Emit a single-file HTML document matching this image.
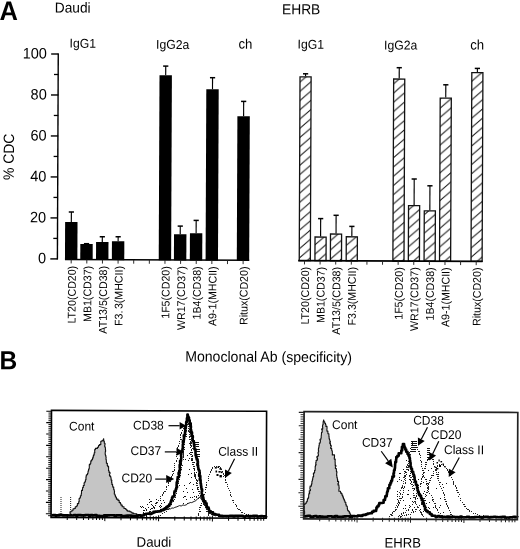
<!DOCTYPE html>
<html><head><meta charset="utf-8"><style>
html,body{margin:0;padding:0;background:#fff;}
svg{display:block;filter:grayscale(1);}
text{font-family:"Liberation Sans",sans-serif;fill:#000;}
</style></head><body>
<svg width="520" height="549" viewBox="0 0 520 549">
<defs><pattern id="h" patternUnits="userSpaceOnUse" x="0" y="0" width="10.6" height="9.3" patternTransform="rotate(0.241)"><path d="M-10.6,18.6 L21.2,-9.3 M-10.6,9.3 L10.6,-9.3 M0,18.6 L21.2,0" stroke="#1a1a1a" stroke-width="1.05"/></pattern></defs>
<rect width="520" height="549" fill="#fff"/>
<text font-size="25.5" text-anchor="start" font-weight="bold" transform="translate(-0.4 20) rotate(0.241) scale(1 1.05)" >A</text>
<text font-size="13.7" text-anchor="start" font-weight="normal" transform="translate(54.8 12.5) rotate(0.241) scale(1 1.05)" >Daudi</text>
<text font-size="13.8" text-anchor="start" font-weight="normal" transform="translate(282 14.2) rotate(0.241) scale(1 1.05)" >EHRB</text>
<text font-size="12.2" text-anchor="start" font-weight="normal" transform="translate(69.6 47.6) rotate(0.241) scale(1 1.05)" >IgG1</text>
<text font-size="12.2" text-anchor="start" font-weight="normal" transform="translate(156.1 48.8) rotate(0.241) scale(1 1.05)" >IgG2a</text>
<text font-size="13.2" text-anchor="start" font-weight="normal" transform="translate(238.5 48.6) rotate(0.241) scale(1 1.05)" >ch</text>
<text font-size="12.2" text-anchor="start" font-weight="normal" transform="translate(297.6 48.6) rotate(0.241) scale(1 1.05)" >IgG1</text>
<text font-size="12.2" text-anchor="start" font-weight="normal" transform="translate(384 49.4) rotate(0.241) scale(1 1.05)" >IgG2a</text>
<text font-size="13.2" text-anchor="start" font-weight="normal" transform="translate(470.2 49.4) rotate(0.241) scale(1 1.05)" >ch</text>
<line x1="58.26" y1="53.40" x2="57.40" y2="259.50" stroke="#000" stroke-width="1.4" />
<line x1="50.30" y1="258.90" x2="57.70" y2="258.90" stroke="#000" stroke-width="1.4" />
<text font-size="14.5" text-anchor="end" font-weight="normal" transform="translate(46.0 263.4) rotate(0.241) scale(1 1.05)" >0</text>
<line x1="53.29" y1="238.41" x2="57.79" y2="238.41" stroke="#000" stroke-width="1.3" />
<line x1="50.47" y1="217.92" x2="57.87" y2="217.92" stroke="#000" stroke-width="1.4" />
<text font-size="14.5" text-anchor="end" font-weight="normal" transform="translate(46.17 222.42) rotate(0.241) scale(1 1.05)" >20</text>
<line x1="53.46" y1="197.43" x2="57.96" y2="197.43" stroke="#000" stroke-width="1.3" />
<line x1="50.64" y1="176.94" x2="58.04" y2="176.94" stroke="#000" stroke-width="1.4" />
<text font-size="14.5" text-anchor="end" font-weight="normal" transform="translate(46.34 181.44) rotate(0.241) scale(1 1.05)" >40</text>
<line x1="53.63" y1="156.45" x2="58.13" y2="156.45" stroke="#000" stroke-width="1.3" />
<line x1="50.82" y1="135.96" x2="58.22" y2="135.96" stroke="#000" stroke-width="1.4" />
<text font-size="14.5" text-anchor="end" font-weight="normal" transform="translate(46.52 140.46) rotate(0.241) scale(1 1.05)" >60</text>
<line x1="53.80" y1="115.47" x2="58.30" y2="115.47" stroke="#000" stroke-width="1.3" />
<line x1="50.99" y1="94.98" x2="58.39" y2="94.98" stroke="#000" stroke-width="1.4" />
<text font-size="14.5" text-anchor="end" font-weight="normal" transform="translate(46.69 99.48) rotate(0.241) scale(1 1.05)" >80</text>
<line x1="53.97" y1="74.49" x2="58.47" y2="74.49" stroke="#000" stroke-width="1.3" />
<line x1="51.16" y1="54.00" x2="58.56" y2="54.00" stroke="#000" stroke-width="1.4" />
<text font-size="14.5" text-anchor="end" font-weight="normal" transform="translate(46.86 58.5) rotate(0.241) scale(1 1.05)" >100</text>
<text transform="translate(13.9,156.9) rotate(-89.759) scale(0.93,1)" font-size="15" text-anchor="middle">% CDC</text>
<line x1="71.37" y1="212.00" x2="71.33" y2="222.00" stroke="#000" stroke-width="1.15" />
<line x1="68.77" y1="212.00" x2="73.97" y2="212.00" stroke="#000" stroke-width="1.5" />
<rect x="65.05" y="222" width="12.4" height="37.93" fill="#000" transform="rotate(0.241 71.25 240.00)"/>
<line x1="86.53" y1="243.70" x2="86.53" y2="244.00" stroke="#000" stroke-width="1.15" />
<line x1="83.93" y1="243.70" x2="89.13" y2="243.70" stroke="#000" stroke-width="1.5" />
<rect x="80.30" y="244.0" width="12.4" height="15.99" fill="#000" transform="rotate(0.241 86.50 250.00)"/>
<line x1="102.31" y1="236.75" x2="102.28" y2="242.00" stroke="#000" stroke-width="1.15" />
<line x1="99.71" y1="236.75" x2="104.91" y2="236.75" stroke="#000" stroke-width="1.5" />
<rect x="96.05" y="242" width="12.4" height="18.06" fill="#000" transform="rotate(0.241 102.25 250.00)"/>
<line x1="118.16" y1="236.75" x2="118.14" y2="241.25" stroke="#000" stroke-width="1.15" />
<line x1="115.56" y1="236.75" x2="120.76" y2="236.75" stroke="#000" stroke-width="1.5" />
<rect x="111.90" y="241.25" width="12.4" height="18.87" fill="#000" transform="rotate(0.241 118.10 250.00)"/>
<line x1="165.74" y1="66.10" x2="165.70" y2="75.20" stroke="#000" stroke-width="1.15" />
<line x1="163.14" y1="66.10" x2="168.34" y2="66.10" stroke="#000" stroke-width="1.5" />
<rect x="159.50" y="75.2" width="12.4" height="185.12" fill="#000" transform="rotate(0.241 165.70 75.00)"/>
<line x1="180.26" y1="226.10" x2="180.22" y2="234.30" stroke="#000" stroke-width="1.15" />
<line x1="177.66" y1="226.10" x2="182.86" y2="226.10" stroke="#000" stroke-width="1.5" />
<rect x="174.00" y="234.3" width="12.4" height="26.08" fill="#000" transform="rotate(0.241 180.20 240.00)"/>
<line x1="196.18" y1="220.40" x2="196.13" y2="233.20" stroke="#000" stroke-width="1.15" />
<line x1="193.58" y1="220.40" x2="198.78" y2="220.40" stroke="#000" stroke-width="1.5" />
<rect x="189.90" y="233.2" width="12.4" height="27.25" fill="#000" transform="rotate(0.241 196.10 240.00)"/>
<line x1="212.55" y1="77.70" x2="212.50" y2="89.30" stroke="#000" stroke-width="1.15" />
<line x1="209.95" y1="77.70" x2="215.15" y2="77.70" stroke="#000" stroke-width="1.5" />
<rect x="206.30" y="89.3" width="12.4" height="171.22" fill="#000" transform="rotate(0.241 212.50 90.00)"/>
<line x1="243.66" y1="101.40" x2="243.60" y2="116.20" stroke="#000" stroke-width="1.15" />
<line x1="241.06" y1="101.40" x2="246.26" y2="101.40" stroke="#000" stroke-width="1.5" />
<rect x="237.40" y="116.2" width="12.4" height="144.45" fill="#000" transform="rotate(0.241 243.60 116.00)"/>
<line x1="65.00" y1="259.60" x2="249.20" y2="260.37" stroke="#000" stroke-width="1.5" />
<line x1="71.20" y1="259.63" x2="71.18" y2="263.43" stroke="#222" stroke-width="0.95" />
<text transform="translate(75.80,265.83) rotate(-89.759) scale(0.95,1)" font-size="11.2" text-anchor="end">LT20(CD20)</text>
<line x1="86.83" y1="259.69" x2="86.81" y2="263.49" stroke="#222" stroke-width="0.95" />
<text transform="translate(91.43,265.89) rotate(-89.759) scale(0.95,1)" font-size="11.2" text-anchor="end">MB1(CD37)</text>
<line x1="102.46" y1="259.76" x2="102.44" y2="263.56" stroke="#222" stroke-width="0.95" />
<text transform="translate(107.06,265.96) rotate(-89.759) scale(0.95,1)" font-size="11.2" text-anchor="end">AT13/5(CD38)</text>
<line x1="118.09" y1="259.82" x2="118.07" y2="263.62" stroke="#222" stroke-width="0.95" />
<text transform="translate(122.69,266.02) rotate(-89.759) scale(0.95,1)" font-size="11.2" text-anchor="end">F3.<tspan dx="1.5">3</tspan>(MHCII)</text>
<line x1="133.72" y1="259.89" x2="133.70" y2="263.69" stroke="#222" stroke-width="0.95" />
<line x1="149.35" y1="259.95" x2="149.33" y2="263.75" stroke="#222" stroke-width="0.95" />
<line x1="164.98" y1="260.02" x2="164.96" y2="263.82" stroke="#222" stroke-width="0.95" />
<text transform="translate(169.58,266.22) rotate(-89.759) scale(0.95,1)" font-size="11.2" text-anchor="end">1F5(CD20)</text>
<line x1="180.61" y1="260.09" x2="180.59" y2="263.89" stroke="#222" stroke-width="0.95" />
<text transform="translate(185.21,266.29) rotate(-89.759) scale(0.95,1)" font-size="11.2" text-anchor="end">WR17(CD37)</text>
<line x1="196.24" y1="260.15" x2="196.22" y2="263.95" stroke="#222" stroke-width="0.95" />
<text transform="translate(200.84,266.35) rotate(-89.759) scale(0.95,1)" font-size="11.2" text-anchor="end">1B4(CD38)</text>
<line x1="211.87" y1="260.22" x2="211.85" y2="264.02" stroke="#222" stroke-width="0.95" />
<text transform="translate(216.47,266.42) rotate(-89.759) scale(0.95,1)" font-size="11.2" text-anchor="end">A9-1(MHCII)</text>
<line x1="227.50" y1="260.28" x2="227.48" y2="264.08" stroke="#222" stroke-width="0.95" />
<line x1="243.13" y1="260.35" x2="243.11" y2="264.15" stroke="#222" stroke-width="0.95" />
<text transform="translate(247.73,266.55) rotate(-89.759) scale(0.95,1)" font-size="11.2" text-anchor="end">Ritux(CD20)</text>
<line x1="305.58" y1="73.80" x2="305.57" y2="76.20" stroke="#000" stroke-width="1.15" />
<line x1="302.98" y1="73.80" x2="308.18" y2="73.80" stroke="#000" stroke-width="1.5" />
<rect x="299.75" y="76.85" width="11.10" height="183.78" fill="url(#h)" stroke="#111" stroke-width="1.3" transform="rotate(0.241 305.30 140.00)"/>
<line x1="320.66" y1="218.60" x2="320.59" y2="236.40" stroke="#000" stroke-width="1.15" />
<line x1="318.06" y1="218.60" x2="323.26" y2="218.60" stroke="#000" stroke-width="1.5" />
<rect x="315.00" y="237.05" width="11.10" height="23.64" fill="url(#h)" stroke="#111" stroke-width="1.3" transform="rotate(0.241 320.55 245.00)"/>
<line x1="336.12" y1="215.30" x2="336.05" y2="233.40" stroke="#000" stroke-width="1.15" />
<line x1="333.52" y1="215.30" x2="338.72" y2="215.30" stroke="#000" stroke-width="1.5" />
<rect x="330.45" y="234.05" width="11.10" height="26.71" fill="url(#h)" stroke="#111" stroke-width="1.3" transform="rotate(0.241 336.00 245.00)"/>
<line x1="351.88" y1="226.40" x2="351.84" y2="236.10" stroke="#000" stroke-width="1.15" />
<line x1="349.28" y1="226.40" x2="354.48" y2="226.40" stroke="#000" stroke-width="1.5" />
<rect x="346.25" y="236.75" width="11.10" height="24.08" fill="url(#h)" stroke="#111" stroke-width="1.3" transform="rotate(0.241 351.80 245.00)"/>
<line x1="399.25" y1="67.70" x2="399.21" y2="78.40" stroke="#000" stroke-width="1.15" />
<line x1="396.65" y1="67.70" x2="401.85" y2="67.70" stroke="#000" stroke-width="1.5" />
<rect x="393.65" y="79.05" width="11.10" height="181.97" fill="url(#h)" stroke="#111" stroke-width="1.3" transform="rotate(0.241 399.20 80.00)"/>
<line x1="414.21" y1="179.00" x2="414.11" y2="205.00" stroke="#000" stroke-width="1.15" />
<line x1="411.61" y1="179.00" x2="416.81" y2="179.00" stroke="#000" stroke-width="1.5" />
<rect x="408.45" y="205.65" width="11.10" height="55.44" fill="url(#h)" stroke="#111" stroke-width="1.3" transform="rotate(0.241 414.00 230.00)"/>
<line x1="429.94" y1="185.80" x2="429.83" y2="210.30" stroke="#000" stroke-width="1.15" />
<line x1="427.34" y1="185.80" x2="432.54" y2="185.80" stroke="#000" stroke-width="1.5" />
<rect x="424.20" y="210.95" width="11.10" height="50.20" fill="url(#h)" stroke="#111" stroke-width="1.3" transform="rotate(0.241 429.75 230.00)"/>
<line x1="445.81" y1="84.80" x2="445.76" y2="97.50" stroke="#000" stroke-width="1.15" />
<line x1="443.21" y1="84.80" x2="448.41" y2="84.80" stroke="#000" stroke-width="1.5" />
<rect x="440.20" y="98.15" width="11.10" height="163.07" fill="url(#h)" stroke="#111" stroke-width="1.3" transform="rotate(0.241 445.75 100.00)"/>
<line x1="477.38" y1="68.40" x2="477.37" y2="72.00" stroke="#000" stroke-width="1.15" />
<line x1="474.78" y1="68.40" x2="479.98" y2="68.40" stroke="#000" stroke-width="1.5" />
<rect x="471.05" y="72.65" width="11.10" height="188.70" fill="url(#h)" stroke="#111" stroke-width="1.3" transform="rotate(0.241 476.60 255.00)"/>
<line x1="298.20" y1="260.60" x2="482.60" y2="261.37" stroke="#000" stroke-width="1.7" />
<line x1="304.50" y1="260.63" x2="304.48" y2="264.43" stroke="#222" stroke-width="0.95" />
<text transform="translate(309.10,266.83) rotate(-89.759) scale(0.95,1)" font-size="11.2" text-anchor="end">LT20(CD20)</text>
<line x1="320.11" y1="260.69" x2="320.09" y2="264.49" stroke="#222" stroke-width="0.95" />
<text transform="translate(324.71,266.89) rotate(-89.759) scale(0.95,1)" font-size="11.2" text-anchor="end">MB1(CD37)</text>
<line x1="335.72" y1="260.76" x2="335.70" y2="264.56" stroke="#222" stroke-width="0.95" />
<text transform="translate(340.32,266.96) rotate(-89.759) scale(0.95,1)" font-size="11.2" text-anchor="end">AT13/5(CD38)</text>
<line x1="351.33" y1="260.82" x2="351.31" y2="264.62" stroke="#222" stroke-width="0.95" />
<text transform="translate(355.93,267.02) rotate(-89.759) scale(0.95,1)" font-size="11.2" text-anchor="end">F3.3(MHCII)</text>
<line x1="366.94" y1="260.89" x2="366.92" y2="264.69" stroke="#222" stroke-width="0.95" />
<line x1="382.55" y1="260.95" x2="382.53" y2="264.75" stroke="#222" stroke-width="0.95" />
<line x1="398.16" y1="261.02" x2="398.14" y2="264.82" stroke="#222" stroke-width="0.95" />
<text transform="translate(402.76,267.22) rotate(-89.759) scale(0.95,1)" font-size="11.2" text-anchor="end">1F5(CD20)</text>
<line x1="413.77" y1="261.09" x2="413.75" y2="264.89" stroke="#222" stroke-width="0.95" />
<text transform="translate(418.37,267.29) rotate(-89.759) scale(0.95,1)" font-size="11.2" text-anchor="end">WR17(CD37)</text>
<line x1="429.38" y1="261.15" x2="429.36" y2="264.95" stroke="#222" stroke-width="0.95" />
<text transform="translate(433.98,267.35) rotate(-89.759) scale(0.95,1)" font-size="11.2" text-anchor="end">1B4(CD38)</text>
<line x1="444.99" y1="261.22" x2="444.97" y2="265.02" stroke="#222" stroke-width="0.95" />
<text transform="translate(449.59,267.42) rotate(-89.759) scale(0.95,1)" font-size="11.2" text-anchor="end">A9-1(MHCII)</text>
<line x1="460.60" y1="261.28" x2="460.58" y2="265.08" stroke="#222" stroke-width="0.95" />
<line x1="476.21" y1="261.35" x2="476.19" y2="265.15" stroke="#222" stroke-width="0.95" />
<text transform="translate(480.81,267.55) rotate(-89.759) scale(0.95,1)" font-size="11.2" text-anchor="end">Ritux(CD20)</text>
<text font-size="24.5" text-anchor="start" font-weight="bold" transform="translate(-0.6 369.2) rotate(0.241) scale(1 1.07)" >B</text>
<text font-size="14.1" text-anchor="start" font-weight="normal" transform="translate(185.2 361.5) rotate(0.241) scale(1 1.05)" >Monoclonal Ab (specificity)</text>
<polyline points="69.8,515.0 70.2,515.0 70.2,513.3 70.0,513.3 70.0,511.9 70.8,511.9 70.8,511.2 72.0,511.2 72.0,510.2 73.1,510.2 73.1,508.8 74.6,508.8 74.6,508.4 75.3,508.4 75.3,506.7 76.7,506.7 76.7,505.8 77.4,505.8 77.4,503.6 78.7,503.6 78.7,501.6 79.2,501.6 79.2,500.3 79.1,500.3 79.1,498.5 79.9,498.5 79.9,497.5 80.4,497.5 80.4,495.7 81.2,495.7 81.2,493.8 81.5,493.8 81.5,491.9 81.5,491.9 81.5,490.4 82.5,490.4 82.5,488.9 82.6,488.9 82.6,487.5 83.3,487.5 83.3,485.5 84.2,485.5 84.2,484.3 84.1,484.3 84.1,482.8 84.8,482.8 84.8,481.7 85.4,481.7 85.4,479.8 86.0,479.8 86.0,478.3 85.9,478.3 85.9,477.5 86.1,477.5 86.1,475.9 86.4,475.9 86.4,474.7 87.5,474.7 87.5,473.2 88.0,473.2 88.0,471.6 88.3,471.6 88.3,470.5 88.6,470.5 88.6,469.0 89.2,469.0 89.2,468.1 89.3,468.1 89.3,466.2 89.3,466.2 89.3,464.6 90.2,464.6 90.2,463.2 90.8,463.2 90.8,460.9 91.6,460.9 91.6,459.7 92.5,459.7 92.5,457.9 93.2,457.9 93.2,455.9 93.6,455.9 93.6,454.9 94.2,454.9 94.2,452.7 94.8,452.7 94.8,451.7 94.7,451.7 94.7,449.6 95.4,449.6 95.4,448.4 97.4,448.4 97.4,447.2 98.5,447.2 98.5,445.5 99.4,445.5 99.4,444.6 100.8,444.6 100.8,442.5 100.8,442.5 100.8,441.2 102.1,441.2 102.1,440.2 103.7,440.2 103.7,438.8 103.5,438.8 103.5,441.0 104.3,441.0 104.3,443.2 105.0,443.2 105.0,444.9 104.7,444.9 104.7,446.5 105.1,446.5 105.1,447.6 105.4,447.6 105.4,449.9 105.6,449.9 105.6,451.6 105.3,451.6 105.3,452.6 105.2,452.6 105.2,454.3 105.4,454.3 105.4,455.2 105.8,455.2 105.8,456.7 106.1,456.7 106.1,458.0 106.0,458.0 106.0,459.6 106.3,459.6 106.3,461.2 106.4,461.2 106.4,463.2 107.4,463.2 107.4,463.8 107.3,463.8 107.3,465.4 107.8,465.4 107.8,466.6 108.6,466.6 108.6,468.9 108.6,468.9 108.6,469.8 108.5,469.8 108.5,470.8 109.1,470.8 109.1,472.4 110.0,472.4 110.0,473.7 109.5,473.7 109.5,475.9 110.4,475.9 110.4,476.5 110.8,476.5 110.8,477.8 111.1,477.8 111.1,480.1 111.8,480.1 111.8,481.3 111.6,481.3 111.6,482.4 111.9,482.4 111.9,484.4 112.6,484.4 112.6,486.0 112.8,486.0 112.8,487.1 113.7,487.1 113.7,489.5 114.2,489.5 114.2,491.0 114.5,491.0 114.5,492.5 114.3,492.5 114.3,494.0 114.9,494.0 114.9,495.1 115.4,495.1 115.4,497.0 116.4,497.0 116.4,499.1 118.0,499.1 118.0,500.4 119.2,500.4 119.2,502.6 120.5,502.6 120.5,503.7 121.0,503.7 121.0,505.1 122.2,505.1 122.2,506.7 124.0,506.7 124.0,508.5 125.6,508.5 125.6,509.2 126.8,509.2 126.8,510.6 127.6,510.6 127.6,511.1 129.9,511.1 129.9,511.8 131.1,511.8 131.1,512.2 132.0,512.2 132.0,513.1 133.7,513.1 133.7,513.7 135.9,513.7 135.9,513.8 136.8,513.8 136.8,515.0 138.7,515.0 138.7,514.8 140.0,514.8 140.0,515.7" fill="#c5c5c5" stroke="#111" stroke-width="1.1" stroke-linejoin="round" />
<line x1="61.00" y1="497.00" x2="61.00" y2="515.00" stroke="#333" stroke-width="1.1" stroke-dasharray="1,1"/>
<line x1="70.60" y1="497.00" x2="70.60" y2="515.00" stroke="#333" stroke-width="1.1" stroke-dasharray="1,1"/>
<polyline points="197.5,515.4 199.0,514.8 198.4,513.3 200.0,511.5 199.5,509.7 199.6,507.4 201.2,506.8 201.0,505.6 201.4,504.0 202.5,501.6 202.2,500.2 202.6,499.1 203.2,497.1 203.5,496.1 204.3,493.7 205.1,492.6 205.3,491.0 205.8,488.8 206.2,486.5 206.5,485.2 206.3,484.4 207.0,482.5 208.1,481.1 208.0,479.5 208.7,478.4 208.5,476.6 209.1,474.7 210.4,473.5 210.6,472.4 211.6,470.4 211.7,469.0 212.8,468.0 213.9,466.5 215.5,466.9 217.3,466.5 219.1,466.2 220.1,467.6 221.7,468.0 222.0,469.9 222.4,471.1 222.9,473.2 224.4,475.1 224.0,476.3 225.2,477.3 226.0,480.2 225.6,481.9 226.4,483.0 227.8,485.2 227.3,486.4 228.4,488.0 228.6,489.7 229.9,490.9 230.3,493.1 230.1,494.6 231.6,496.4 231.4,498.7 233.2,500.2 232.9,500.7 233.6,502.9 234.7,503.5 235.8,505.8 237.2,506.2 237.1,508.3 238.6,509.3 239.1,509.4 241.1,510.9 241.4,512.6 244.2,513.4 245.4,514.5 246.9,515.0 248.9,514.8 250.6,516.2 252.0,516.1" fill="none" stroke="#222" stroke-width="1.1" stroke-linejoin="round" stroke-dasharray="1.3,1.1" shape-rendering="crispEdges"/>
<polyline points="149.7,515.3 151.6,514.7 152.7,513.8 154.3,513.1 156.2,512.5 158.3,511.7 159.6,511.2 161.0,510.6 162.5,510.2 164.7,510.5 165.6,510.0 168.0,509.0 169.4,508.9 170.5,508.9 171.9,508.0 173.7,508.1 174.8,507.4 176.9,506.8 178.2,506.2 179.5,505.6 181.2,506.0 183.0,504.9 184.5,505.4 186.8,504.6 187.5,503.5 189.0,503.2 190.2,502.5 191.7,502.6 194.2,501.4 195.0,501.2 196.8,499.8 197.9,498.4 200.0,497.0 200.6,498.3 201.4,499.4 202.5,500.9 203.1,501.8 204.0,503.5 204.9,505.2 205.7,506.8 206.3,508.5 206.9,509.0 208.6,510.1 209.3,511.9 209.5,513.4 212.0,513.9 213.3,514.9 214.1,515.3 216.0,516.0" fill="none" stroke="#000" stroke-width="0.9" stroke-linejoin="round" />
<polyline points="146.0,516.3 147.5,515.1 148.2,514.1 149.3,512.5 149.5,510.2 150.6,509.5 151.8,509.1 153.9,507.5 155.2,506.3 156.0,503.6 157.5,503.4 158.0,501.6 159.3,499.2 160.4,498.1 160.2,496.6 162.4,495.0 163.4,494.9 163.8,492.5 164.6,491.7 165.9,490.3 166.5,488.0 166.4,487.1 168.2,485.5 168.6,483.4 168.5,482.2 170.3,481.3 170.9,479.1 171.3,477.9 171.8,475.8 173.2,474.5 173.9,474.0 172.6,471.4 174.6,470.6 174.4,467.6 174.4,467.1 174.7,464.6 175.0,462.8 176.8,460.3 176.8,459.5 177.2,458.4 176.3,457.2 177.0,454.1 176.4,453.5 177.4,451.6 177.2,450.1 177.8,449.4 177.5,447.7 179.3,444.9 179.8,444.4 180.1,442.0 179.6,440.6 181.1,439.4 180.3,437.5 180.6,435.2 180.8,435.0 181.6,433.6 182.0,430.8 183.0,429.0 183.3,428.8 184.8,427.1 185.0,425.7 186.2,423.6 186.4,421.2 187.3,423.2 188.1,424.9 188.1,425.2 189.4,426.9 188.8,428.8 188.6,431.1 190.0,431.8 189.6,433.4 189.6,435.1 189.1,436.3 189.3,439.2 190.0,439.5 190.9,442.4 190.2,442.4 189.9,443.8 190.4,445.3 190.4,447.1 191.1,449.7 191.6,450.3 191.2,452.0 191.3,453.2 190.9,454.6 192.7,455.8 192.0,458.2 193.0,459.1 192.2,460.7 192.7,462.7 194.0,465.0 194.2,465.1 193.0,468.0 194.8,469.2 194.6,469.9 194.5,473.2 195.6,474.6 196.2,475.1 195.0,476.5 196.0,479.0 197.1,480.6 196.9,482.3 196.9,483.4 196.5,485.4 197.2,487.2 198.3,487.6 197.8,489.2 199.2,491.7 198.8,492.2 200.0,494.8 200.3,495.8 201.2,497.1 201.3,499.4 203.2,501.3 203.7,502.5 203.2,503.5 205.2,505.9 204.7,506.1 206.0,508.6 206.9,509.1 208.3,511.6 208.5,511.3 209.7,513.3 211.3,514.1 212.0,516.0" fill="none" stroke="#222" stroke-width="1.1" stroke-linejoin="round" stroke-dasharray="1.3,1.1" shape-rendering="crispEdges"/>
<polyline points="160.5,516.2 161.3,514.3 163.5,513.5 164.6,512.4 164.8,512.4 166.3,511.8 168.0,509.4 168.4,508.4 170.0,508.0 169.9,505.5 170.9,505.1 171.6,502.1 172.4,501.2 174.7,500.7 174.9,499.5 175.7,496.8 174.8,496.5 176.2,493.4 176.5,492.6 176.4,491.0 176.5,489.0 177.2,488.2 178.8,486.3 179.1,484.9 178.3,484.5 179.4,482.2 178.3,480.8 179.1,480.0 179.1,477.5 180.6,475.3 180.0,475.2 180.9,472.3 179.9,470.8 181.8,469.6 181.6,469.2 181.1,466.6 182.4,465.7 181.4,464.4 181.7,462.1 181.3,461.5 183.1,459.7 183.4,457.1 182.3,456.5 183.8,455.8 183.0,453.1 183.2,452.0 184.3,449.9 184.3,449.4 184.5,448.0 184.3,445.7 184.0,444.3 185.0,442.2 184.2,441.8 184.5,439.0 184.4,438.2 185.2,437.4 186.4,435.8 185.6,432.5 185.5,431.6 186.9,429.9 186.6,428.4 187.8,427.3 188.6,426.1 189.0,423.3 189.8,425.1 189.7,426.8 190.5,428.0 190.0,429.5 190.0,432.2 190.8,432.7 190.5,435.5 190.8,435.6 191.4,437.9 191.9,438.4 191.0,441.2 191.7,442.9 190.4,443.3 190.6,444.7 192.2,446.9 192.2,448.0 192.2,449.7 191.2,451.8 192.5,452.1 191.9,454.6 191.3,455.6 191.3,456.9 191.7,459.1 192.7,459.9 191.9,461.6 193.3,462.9 193.0,464.4 194.1,466.5 193.1,467.2 194.0,469.6 194.7,470.2 194.1,472.8 194.8,473.6 195.1,476.3 195.5,477.0 196.0,478.2 197.3,480.7 196.8,480.8 197.9,482.2 197.0,485.0 198.1,486.3 198.5,487.8 199.0,488.0 198.6,490.2 200.1,492.3 199.6,493.2 200.5,494.5 200.6,495.6 201.7,498.3 201.4,499.0 203.2,501.3 202.5,501.3 204.3,504.4 204.0,504.2 205.4,506.2 206.0,508.0 206.5,508.5 207.0,510.0 207.0,512.5 208.3,512.7 207.9,514.4 209.0,516.0" fill="none" stroke="#222" stroke-width="1.1" stroke-linejoin="round" stroke-dasharray="1.3,1.1" shape-rendering="crispEdges"/>
<line x1="195.00" y1="442.00" x2="198.80" y2="442.00" stroke="#111" stroke-width="1.0" shape-rendering="crispEdges"/>
<line x1="195.25" y1="444.40" x2="199.05" y2="444.40" stroke="#111" stroke-width="1.0" shape-rendering="crispEdges"/>
<line x1="195.50" y1="446.80" x2="199.30" y2="446.80" stroke="#111" stroke-width="1.0" shape-rendering="crispEdges"/>
<line x1="195.75" y1="449.20" x2="199.55" y2="449.20" stroke="#111" stroke-width="1.0" shape-rendering="crispEdges"/>
<line x1="196.00" y1="451.60" x2="199.80" y2="451.60" stroke="#111" stroke-width="1.0" shape-rendering="crispEdges"/>
<line x1="196.25" y1="454.00" x2="200.05" y2="454.00" stroke="#111" stroke-width="1.0" shape-rendering="crispEdges"/>
<line x1="196.50" y1="456.40" x2="200.30" y2="456.40" stroke="#111" stroke-width="1.0" shape-rendering="crispEdges"/>
<rect x="214.8" y="467" width="2" height="1.6" fill="#000"/>
<rect x="217.5" y="466.5" width="1.5" height="1.5" fill="#000"/>
<rect x="219.5" y="468" width="2" height="1.8" fill="#000"/>
<rect x="215.5" y="470.5" width="1.6" height="2" fill="#000"/>
<rect x="218.5" y="471" width="2.2" height="1.6" fill="#000"/>
<rect x="221" y="471.5" width="1.6" height="1.6" fill="#000"/>
<rect x="216.5" y="474" width="2" height="2" fill="#000"/>
<rect x="219.5" y="475" width="2.4" height="2.4" fill="#000"/>
<polyline points="51.5,515.2 53.0,515.2 53.0,515.1 55.5,515.1 55.5,515.7 56.6,515.7 56.6,515.4 59.2,515.4 59.2,514.9 61.2,514.9 61.2,515.0 62.8,515.0 62.8,515.4 64.7,515.4 64.7,515.2 66.3,515.2 66.3,515.4 68.2,515.4 68.2,515.5 70.1,515.5 70.1,515.3 71.5,515.3 71.5,515.5 73.9,515.5 73.9,515.1 76.0,515.1 76.0,515.7 77.6,515.7 77.6,515.1 79.5,515.1 79.5,515.0 81.0,515.0 81.0,515.4 82.8,515.4 82.8,515.4 85.1,515.4 85.1,515.0 87.1,515.0 87.1,515.0 89.0,515.0 89.0,515.7 90.7,515.7 90.7,515.0 92.5,515.0 92.5,515.4 94.9,515.4 94.9,515.1 96.6,515.1 96.6,516.0 98.4,516.0 98.4,515.8 99.7,515.8 99.7,516.0 101.8,516.0 101.8,516.0 104.1,516.0 104.1,515.2 105.7,515.2 105.7,516.0 106.8,516.0 106.8,515.4 109.3,515.4 109.3,515.2 111.3,515.2 111.3,515.3 113.0,515.3 113.0,515.2 114.5,515.2 114.5,516.0 116.1,516.0 116.1,515.3 118.2,515.3 118.2,515.4 119.5,515.4 119.5,515.3 121.5,515.3 121.5,516.0 123.8,516.0 123.8,516.0 125.1,516.0 125.1,515.9 126.9,515.9 126.9,515.6 129.2,515.6 129.2,515.5 131.3,515.5 131.3,515.7 132.8,515.7 132.8,516.0 134.2,516.0 134.2,516.1 136.5,516.1 136.5,515.6 138.5,515.6 138.5,515.4 140.5,515.4 140.5,515.7 141.8,515.7 141.8,515.5 143.8,515.5 143.8,514.4 146.0,514.4 146.0,513.8 148.0,513.8 148.0,513.5 149.7,513.5 149.7,513.8 151.6,513.8 151.6,513.0 153.4,513.0 153.4,511.9 155.2,511.9 155.2,511.6 157.8,511.6 157.8,511.4 159.6,511.4 159.6,511.3 161.1,511.3 161.1,510.1 163.6,510.1 163.6,509.0 164.9,509.0 164.9,508.4 166.3,508.4 166.3,507.1 167.7,507.1 167.7,506.0 169.3,506.0 169.3,504.3 170.5,504.3 170.5,502.3 171.1,502.3 171.1,500.4 172.0,500.4 172.0,497.8 172.6,497.8 172.6,496.5 174.2,496.5 174.2,494.9 174.3,494.9 174.3,492.6 174.5,492.6 174.5,491.3 175.7,491.3 175.7,489.3 176.3,489.3 176.3,487.6 177.0,487.6 177.0,486.2 176.6,486.2 176.6,484.5 176.7,484.5 176.7,482.4 177.4,482.4 177.4,480.3 177.4,480.3 177.4,479.1 177.7,479.1 177.7,477.1 179.0,477.1 179.0,474.5 178.6,474.5 178.6,472.8 179.3,472.8 179.3,470.6 180.0,470.6 180.0,468.0 179.7,468.0 179.7,466.2 179.7,466.2 179.7,464.8 180.7,464.8 180.7,462.7 180.1,462.7 180.1,460.8 181.1,460.8 181.1,458.5 181.3,458.5 181.3,456.6 181.1,456.6 181.1,454.2 181.4,454.2 181.4,452.1 181.8,452.1 181.8,450.7 182.5,450.7 182.5,448.8 182.8,448.8 182.8,446.2 182.8,446.2 182.8,444.5 183.2,444.5 183.2,442.8 182.9,442.8 182.9,441.1 183.8,441.1 183.8,438.9 184.1,438.9 184.1,436.9 183.8,436.9 183.8,435.3 184.7,435.3 184.7,434.2 185.0,434.2 185.0,431.7 185.5,431.7 185.5,429.7 185.1,429.7 185.1,428.2 185.8,428.2 185.8,426.0 186.1,426.0 186.1,424.2 186.2,424.2 186.2,422.0 186.8,422.0 186.8,420.2 186.9,420.2 186.9,418.3 187.4,418.3 187.4,416.0 187.4,416.0 187.4,414.5 187.8,414.5 187.8,416.6 188.4,416.6 188.4,417.6 189.0,417.6 189.0,420.3 189.7,420.3 189.7,421.3 189.7,421.3 189.7,423.3 190.7,423.3 190.7,425.9 190.9,425.9 190.9,428.1 190.6,428.1 190.6,430.0 191.2,430.0 191.2,432.2 192.0,432.2 192.0,434.2 191.6,434.2 191.6,436.1 192.8,436.1 192.8,438.1 192.4,438.1 192.4,439.3 192.7,439.3 192.7,441.1 193.8,441.1 193.8,443.8 194.1,443.8 194.1,445.9 194.5,445.9 194.5,447.4 194.4,447.4 194.4,449.2 195.5,449.2 195.5,451.4 195.5,451.4 195.5,453.6 195.6,453.6 195.6,455.4 196.2,455.4 196.2,457.8 196.7,457.8 196.7,459.4 197.6,459.4 197.6,461.5 197.9,461.5 197.9,463.6 197.4,463.6 197.4,465.3 198.1,465.3 198.1,467.5 198.3,467.5 198.3,469.2 198.8,469.2 198.8,470.5 199.5,470.5 199.5,472.2 199.7,472.2 199.7,474.1 199.2,474.1 199.2,475.9 200.3,475.9 200.3,478.5 199.8,478.5 199.8,479.9 200.6,479.9 200.6,482.2 200.6,482.2 200.6,483.8 201.0,483.8 201.0,486.1 201.3,486.1 201.3,488.1 201.5,488.1 201.5,489.3 202.1,489.3 202.1,491.5 201.7,491.5 201.7,493.6 201.9,493.6 201.9,495.7 203.0,495.7 203.0,497.7 203.4,497.7 203.4,499.3 203.7,499.3 203.7,501.4 205.4,501.4 205.4,503.4 206.6,503.4 206.6,505.7 206.9,505.7 206.9,507.5 208.6,507.5 208.6,509.3 209.1,509.3 209.1,511.2 210.8,511.2 210.8,512.3 213.0,512.3 213.0,514.1 215.2,514.1 215.2,514.5 216.7,514.5 216.7,514.8 219.1,514.8 219.1,515.9 222.2,515.9 222.2,516.3 223.5,516.3 223.5,516.0 226.0,516.0 226.0,516.1 227.2,516.1 227.2,516.0 229.8,516.0 229.8,515.8 230.9,515.8 230.9,515.9 233.3,515.9 233.3,516.4 234.6,516.4 234.6,515.7 236.5,515.7 236.5,515.9 238.6,515.9 238.6,515.7 240.3,515.7 240.3,515.8 242.8,515.8 242.8,516.3 243.8,516.3 243.8,516.6 245.6,516.6 245.6,516.0 248.3,516.0 248.3,516.4 249.9,516.4 249.9,516.1 251.2,516.1 251.2,516.3 253.0,516.3 253.0,515.9 255.1,515.9 255.1,515.7 257.0,515.7 257.0,516.5 259.1,516.5 259.1,516.2 260.9,516.2 260.9,516.1 262.3,516.1 262.3,516.3 264.4,516.3 264.4,516.4 266.3,516.4 266.3,516.2" fill="none" stroke="#000" stroke-width="2.6" stroke-linejoin="round" />
<rect x="162.7" y="500.1" width="1.0" height="1.0" fill="#111" shape-rendering="crispEdges"/>
<rect x="154.3" y="507.8" width="1.0" height="1.0" fill="#111" shape-rendering="crispEdges"/>
<rect x="150.5" y="500.6" width="1.0" height="1.0" fill="#111" shape-rendering="crispEdges"/>
<rect x="158.1" y="509.8" width="1.0" height="1.0" fill="#111" shape-rendering="crispEdges"/>
<rect x="159.4" y="506.2" width="1.0" height="1.0" fill="#111" shape-rendering="crispEdges"/>
<rect x="161.3" y="505.5" width="1.0" height="1.0" fill="#111" shape-rendering="crispEdges"/>
<rect x="156.0" y="502.4" width="1.0" height="1.0" fill="#111" shape-rendering="crispEdges"/>
<rect x="147.8" y="507.0" width="1.0" height="1.0" fill="#111" shape-rendering="crispEdges"/>
<rect x="142.4" y="505.8" width="1.0" height="1.0" fill="#111" shape-rendering="crispEdges"/>
<rect x="159.6" y="506.5" width="1.0" height="1.0" fill="#111" shape-rendering="crispEdges"/>
<rect x="155.7" y="499.0" width="1.0" height="1.0" fill="#111" shape-rendering="crispEdges"/>
<rect x="150.6" y="503.9" width="1.0" height="1.0" fill="#111" shape-rendering="crispEdges"/>
<rect x="155.5" y="501.8" width="1.0" height="1.0" fill="#111" shape-rendering="crispEdges"/>
<rect x="156.9" y="510.7" width="1.0" height="1.0" fill="#111" shape-rendering="crispEdges"/>
<rect x="144.6" y="507.9" width="1.0" height="1.0" fill="#111" shape-rendering="crispEdges"/>
<rect x="159.5" y="500.2" width="1.0" height="1.0" fill="#111" shape-rendering="crispEdges"/>
<rect x="152.2" y="511.6" width="1.0" height="1.0" fill="#111" shape-rendering="crispEdges"/>
<rect x="141.0" y="507.4" width="1.0" height="1.0" fill="#111" shape-rendering="crispEdges"/>
<rect x="144.0" y="509.5" width="1.0" height="1.0" fill="#111" shape-rendering="crispEdges"/>
<rect x="163.5" y="501.8" width="1.0" height="1.0" fill="#111" shape-rendering="crispEdges"/>
<rect x="142.5" y="507.4" width="1.0" height="1.0" fill="#111" shape-rendering="crispEdges"/>
<rect x="153.5" y="507.4" width="1.0" height="1.0" fill="#111" shape-rendering="crispEdges"/>
<rect x="152.8" y="506.3" width="1.0" height="1.0" fill="#111" shape-rendering="crispEdges"/>
<rect x="160.7" y="502.5" width="1.0" height="1.0" fill="#111" shape-rendering="crispEdges"/>
<rect x="150.3" y="511.2" width="1.0" height="1.0" fill="#111" shape-rendering="crispEdges"/>
<rect x="145.3" y="508.2" width="1.0" height="1.0" fill="#111" shape-rendering="crispEdges"/>
<rect x="149.8" y="508.6" width="1.0" height="1.0" fill="#111" shape-rendering="crispEdges"/>
<rect x="143.1" y="511.8" width="1.0" height="1.0" fill="#111" shape-rendering="crispEdges"/>
<rect x="148.9" y="498.8" width="1.0" height="1.0" fill="#111" shape-rendering="crispEdges"/>
<rect x="146.9" y="504.2" width="1.0" height="1.0" fill="#111" shape-rendering="crispEdges"/>
<rect x="140.3" y="506.4" width="1.0" height="1.0" fill="#111" shape-rendering="crispEdges"/>
<rect x="150.5" y="507.5" width="1.0" height="1.0" fill="#111" shape-rendering="crispEdges"/>
<rect x="148.8" y="501.8" width="1.0" height="1.0" fill="#111" shape-rendering="crispEdges"/>
<rect x="145.6" y="508.8" width="1.0" height="1.0" fill="#111" shape-rendering="crispEdges"/>
<rect x="163.5" y="502.0" width="1.0" height="1.0" fill="#111" shape-rendering="crispEdges"/>
<rect x="145.5" y="509.6" width="1.0" height="1.0" fill="#111" shape-rendering="crispEdges"/>
<rect x="149.8" y="500.7" width="1.0" height="1.0" fill="#111" shape-rendering="crispEdges"/>
<rect x="143.2" y="509.5" width="1.0" height="1.0" fill="#111" shape-rendering="crispEdges"/>
<rect x="160.2" y="504.8" width="1.0" height="1.0" fill="#111" shape-rendering="crispEdges"/>
<rect x="151.7" y="505.3" width="1.0" height="1.0" fill="#111" shape-rendering="crispEdges"/>
<rect x="186.6" y="502.9" width="1.0" height="1.0" fill="#111" shape-rendering="crispEdges"/>
<rect x="188.7" y="482.6" width="1.0" height="1.0" fill="#111" shape-rendering="crispEdges"/>
<rect x="196.1" y="495.5" width="1.0" height="1.0" fill="#111" shape-rendering="crispEdges"/>
<rect x="190.5" y="459.9" width="1.0" height="1.0" fill="#111" shape-rendering="crispEdges"/>
<rect x="191.8" y="451.5" width="1.0" height="1.0" fill="#111" shape-rendering="crispEdges"/>
<rect x="196.3" y="472.1" width="1.0" height="1.0" fill="#111" shape-rendering="crispEdges"/>
<rect x="196.6" y="468.0" width="1.0" height="1.0" fill="#111" shape-rendering="crispEdges"/>
<rect x="189.0" y="458.1" width="1.0" height="1.0" fill="#111" shape-rendering="crispEdges"/>
<rect x="189.8" y="452.4" width="1.0" height="1.0" fill="#111" shape-rendering="crispEdges"/>
<rect x="183.0" y="491.2" width="1.0" height="1.0" fill="#111" shape-rendering="crispEdges"/>
<rect x="187.5" y="460.1" width="1.0" height="1.0" fill="#111" shape-rendering="crispEdges"/>
<rect x="187.8" y="473.7" width="1.0" height="1.0" fill="#111" shape-rendering="crispEdges"/>
<rect x="189.9" y="481.5" width="1.0" height="1.0" fill="#111" shape-rendering="crispEdges"/>
<rect x="193.5" y="468.5" width="1.0" height="1.0" fill="#111" shape-rendering="crispEdges"/>
<rect x="197.9" y="498.1" width="1.0" height="1.0" fill="#111" shape-rendering="crispEdges"/>
<rect x="183.9" y="496.1" width="1.0" height="1.0" fill="#111" shape-rendering="crispEdges"/>
<rect x="197.5" y="494.5" width="1.0" height="1.0" fill="#111" shape-rendering="crispEdges"/>
<rect x="185.2" y="495.8" width="1.0" height="1.0" fill="#111" shape-rendering="crispEdges"/>
<rect x="193.1" y="447.8" width="1.0" height="1.0" fill="#111" shape-rendering="crispEdges"/>
<rect x="183.2" y="502.6" width="1.0" height="1.0" fill="#111" shape-rendering="crispEdges"/>
<rect x="193.5" y="462.0" width="1.0" height="1.0" fill="#111" shape-rendering="crispEdges"/>
<rect x="184.6" y="459.4" width="1.0" height="1.0" fill="#111" shape-rendering="crispEdges"/>
<rect x="186.7" y="492.1" width="1.0" height="1.0" fill="#111" shape-rendering="crispEdges"/>
<rect x="188.5" y="452.6" width="1.0" height="1.0" fill="#111" shape-rendering="crispEdges"/>
<rect x="197.5" y="494.9" width="1.0" height="1.0" fill="#111" shape-rendering="crispEdges"/>
<rect x="185.7" y="499.0" width="1.0" height="1.0" fill="#111" shape-rendering="crispEdges"/>
<rect x="192.7" y="492.1" width="1.0" height="1.0" fill="#111" shape-rendering="crispEdges"/>
<rect x="193.7" y="499.0" width="1.0" height="1.0" fill="#111" shape-rendering="crispEdges"/>
<rect x="195.6" y="496.5" width="1.0" height="1.0" fill="#111" shape-rendering="crispEdges"/>
<rect x="186.2" y="487.6" width="1.0" height="1.0" fill="#111" shape-rendering="crispEdges"/>
<rect x="191.5" y="489.1" width="1.0" height="1.0" fill="#111" shape-rendering="crispEdges"/>
<rect x="190.0" y="497.4" width="1.0" height="1.0" fill="#111" shape-rendering="crispEdges"/>
<rect x="191.9" y="460.2" width="1.0" height="1.0" fill="#111" shape-rendering="crispEdges"/>
<rect x="186.7" y="455.2" width="1.0" height="1.0" fill="#111" shape-rendering="crispEdges"/>
<rect x="190.9" y="445.6" width="1.0" height="1.0" fill="#111" shape-rendering="crispEdges"/>
<rect x="190.5" y="450.3" width="1.0" height="1.0" fill="#111" shape-rendering="crispEdges"/>
<rect x="190.9" y="473.3" width="1.0" height="1.0" fill="#111" shape-rendering="crispEdges"/>
<rect x="191.6" y="496.6" width="1.0" height="1.0" fill="#111" shape-rendering="crispEdges"/>
<rect x="183.1" y="497.1" width="1.0" height="1.0" fill="#111" shape-rendering="crispEdges"/>
<rect x="190.5" y="477.0" width="1.0" height="1.0" fill="#111" shape-rendering="crispEdges"/>
<rect x="193.6" y="495.9" width="1.0" height="1.0" fill="#111" shape-rendering="crispEdges"/>
<rect x="189.0" y="468.5" width="1.0" height="1.0" fill="#111" shape-rendering="crispEdges"/>
<rect x="198.4" y="461.9" width="1.0" height="1.0" fill="#111" shape-rendering="crispEdges"/>
<rect x="193.2" y="483.9" width="1.0" height="1.0" fill="#111" shape-rendering="crispEdges"/>
<rect x="183.5" y="485.2" width="1.0" height="1.0" fill="#111" shape-rendering="crispEdges"/>
<g transform="rotate(0.241 51.50 410.40)"><rect x="51.5" y="410.4" width="215.10" height="107.00" fill="none" stroke="#000" stroke-width="1.6"/><line x1="46.30" y1="411.20" x2="51.5" y2="411.20" stroke="#000" stroke-width="1.1"/><line x1="48.50" y1="413.10" x2="51.5" y2="413.10" stroke="#000" stroke-width="0.9"/><line x1="48.50" y1="415.00" x2="51.5" y2="415.00" stroke="#000" stroke-width="0.9"/><line x1="48.50" y1="416.90" x2="51.5" y2="416.90" stroke="#000" stroke-width="0.9"/><line x1="48.50" y1="418.80" x2="51.5" y2="418.80" stroke="#000" stroke-width="0.9"/><line x1="48.50" y1="420.70" x2="51.5" y2="420.70" stroke="#000" stroke-width="0.9"/><line x1="46.30" y1="422.60" x2="51.5" y2="422.60" stroke="#000" stroke-width="1.1"/><line x1="48.50" y1="424.50" x2="51.5" y2="424.50" stroke="#000" stroke-width="0.9"/><line x1="48.50" y1="426.40" x2="51.5" y2="426.40" stroke="#000" stroke-width="0.9"/><line x1="48.50" y1="428.30" x2="51.5" y2="428.30" stroke="#000" stroke-width="0.9"/><line x1="48.50" y1="430.20" x2="51.5" y2="430.20" stroke="#000" stroke-width="0.9"/><line x1="48.50" y1="432.10" x2="51.5" y2="432.10" stroke="#000" stroke-width="0.9"/><line x1="46.30" y1="434.00" x2="51.5" y2="434.00" stroke="#000" stroke-width="1.1"/><line x1="48.50" y1="435.90" x2="51.5" y2="435.90" stroke="#000" stroke-width="0.9"/><line x1="48.50" y1="437.80" x2="51.5" y2="437.80" stroke="#000" stroke-width="0.9"/><line x1="48.50" y1="439.70" x2="51.5" y2="439.70" stroke="#000" stroke-width="0.9"/><line x1="48.50" y1="441.60" x2="51.5" y2="441.60" stroke="#000" stroke-width="0.9"/><line x1="48.50" y1="443.50" x2="51.5" y2="443.50" stroke="#000" stroke-width="0.9"/><line x1="46.30" y1="445.40" x2="51.5" y2="445.40" stroke="#000" stroke-width="1.1"/><line x1="48.50" y1="447.30" x2="51.5" y2="447.30" stroke="#000" stroke-width="0.9"/><line x1="48.50" y1="449.20" x2="51.5" y2="449.20" stroke="#000" stroke-width="0.9"/><line x1="48.50" y1="451.10" x2="51.5" y2="451.10" stroke="#000" stroke-width="0.9"/><line x1="48.50" y1="453.00" x2="51.5" y2="453.00" stroke="#000" stroke-width="0.9"/><line x1="48.50" y1="454.90" x2="51.5" y2="454.90" stroke="#000" stroke-width="0.9"/><line x1="46.30" y1="456.80" x2="51.5" y2="456.80" stroke="#000" stroke-width="1.1"/><line x1="48.50" y1="458.70" x2="51.5" y2="458.70" stroke="#000" stroke-width="0.9"/><line x1="48.50" y1="460.60" x2="51.5" y2="460.60" stroke="#000" stroke-width="0.9"/><line x1="48.50" y1="462.50" x2="51.5" y2="462.50" stroke="#000" stroke-width="0.9"/><line x1="48.50" y1="464.40" x2="51.5" y2="464.40" stroke="#000" stroke-width="0.9"/><line x1="48.50" y1="466.30" x2="51.5" y2="466.30" stroke="#000" stroke-width="0.9"/><line x1="46.30" y1="468.20" x2="51.5" y2="468.20" stroke="#000" stroke-width="1.1"/><line x1="48.50" y1="470.10" x2="51.5" y2="470.10" stroke="#000" stroke-width="0.9"/><line x1="48.50" y1="472.00" x2="51.5" y2="472.00" stroke="#000" stroke-width="0.9"/><line x1="48.50" y1="473.90" x2="51.5" y2="473.90" stroke="#000" stroke-width="0.9"/><line x1="48.50" y1="475.80" x2="51.5" y2="475.80" stroke="#000" stroke-width="0.9"/><line x1="48.50" y1="477.70" x2="51.5" y2="477.70" stroke="#000" stroke-width="0.9"/><line x1="46.30" y1="479.60" x2="51.5" y2="479.60" stroke="#000" stroke-width="1.1"/><line x1="48.50" y1="481.50" x2="51.5" y2="481.50" stroke="#000" stroke-width="0.9"/><line x1="48.50" y1="483.40" x2="51.5" y2="483.40" stroke="#000" stroke-width="0.9"/><line x1="48.50" y1="485.30" x2="51.5" y2="485.30" stroke="#000" stroke-width="0.9"/><line x1="48.50" y1="487.20" x2="51.5" y2="487.20" stroke="#000" stroke-width="0.9"/><line x1="48.50" y1="489.10" x2="51.5" y2="489.10" stroke="#000" stroke-width="0.9"/><line x1="46.30" y1="491.00" x2="51.5" y2="491.00" stroke="#000" stroke-width="1.1"/><line x1="48.50" y1="492.90" x2="51.5" y2="492.90" stroke="#000" stroke-width="0.9"/><line x1="48.50" y1="494.80" x2="51.5" y2="494.80" stroke="#000" stroke-width="0.9"/><line x1="48.50" y1="496.70" x2="51.5" y2="496.70" stroke="#000" stroke-width="0.9"/><line x1="48.50" y1="498.60" x2="51.5" y2="498.60" stroke="#000" stroke-width="0.9"/><line x1="48.50" y1="500.50" x2="51.5" y2="500.50" stroke="#000" stroke-width="0.9"/><line x1="46.30" y1="502.40" x2="51.5" y2="502.40" stroke="#000" stroke-width="1.1"/><line x1="48.50" y1="504.30" x2="51.5" y2="504.30" stroke="#000" stroke-width="0.9"/><line x1="48.50" y1="506.20" x2="51.5" y2="506.20" stroke="#000" stroke-width="0.9"/><line x1="48.50" y1="508.10" x2="51.5" y2="508.10" stroke="#000" stroke-width="0.9"/><line x1="48.50" y1="510.00" x2="51.5" y2="510.00" stroke="#000" stroke-width="0.9"/><line x1="48.50" y1="511.90" x2="51.5" y2="511.90" stroke="#000" stroke-width="0.9"/><line x1="46.30" y1="513.80" x2="51.5" y2="513.80" stroke="#000" stroke-width="1.1"/><line x1="48.50" y1="515.70" x2="51.5" y2="515.70" stroke="#000" stroke-width="0.9"/><line x1="67.69" y1="515.90" x2="67.69" y2="519.90" stroke="#000" stroke-width="1"/><line x1="77.16" y1="515.90" x2="77.16" y2="519.90" stroke="#000" stroke-width="1"/><line x1="83.88" y1="515.90" x2="83.88" y2="519.90" stroke="#000" stroke-width="1"/><line x1="89.09" y1="515.90" x2="89.09" y2="519.90" stroke="#000" stroke-width="1"/><line x1="93.35" y1="515.90" x2="93.35" y2="519.90" stroke="#000" stroke-width="1"/><line x1="96.95" y1="515.90" x2="96.95" y2="519.90" stroke="#000" stroke-width="1"/><line x1="100.06" y1="515.90" x2="100.06" y2="519.90" stroke="#000" stroke-width="1"/><line x1="102.81" y1="515.90" x2="102.81" y2="519.90" stroke="#000" stroke-width="1"/><line x1="105.28" y1="514.90" x2="105.28" y2="520.90" stroke="#000" stroke-width="1"/><line x1="121.46" y1="515.90" x2="121.46" y2="519.90" stroke="#000" stroke-width="1"/><line x1="130.93" y1="515.90" x2="130.93" y2="519.90" stroke="#000" stroke-width="1"/><line x1="137.65" y1="515.90" x2="137.65" y2="519.90" stroke="#000" stroke-width="1"/><line x1="142.86" y1="515.90" x2="142.86" y2="519.90" stroke="#000" stroke-width="1"/><line x1="147.12" y1="515.90" x2="147.12" y2="519.90" stroke="#000" stroke-width="1"/><line x1="150.72" y1="515.90" x2="150.72" y2="519.90" stroke="#000" stroke-width="1"/><line x1="153.84" y1="515.90" x2="153.84" y2="519.90" stroke="#000" stroke-width="1"/><line x1="156.59" y1="515.90" x2="156.59" y2="519.90" stroke="#000" stroke-width="1"/><line x1="159.05" y1="514.90" x2="159.05" y2="520.90" stroke="#000" stroke-width="1"/><line x1="175.24" y1="515.90" x2="175.24" y2="519.90" stroke="#000" stroke-width="1"/><line x1="184.71" y1="515.90" x2="184.71" y2="519.90" stroke="#000" stroke-width="1"/><line x1="191.43" y1="515.90" x2="191.43" y2="519.90" stroke="#000" stroke-width="1"/><line x1="196.64" y1="515.90" x2="196.64" y2="519.90" stroke="#000" stroke-width="1"/><line x1="200.90" y1="515.90" x2="200.90" y2="519.90" stroke="#000" stroke-width="1"/><line x1="204.50" y1="515.90" x2="204.50" y2="519.90" stroke="#000" stroke-width="1"/><line x1="207.61" y1="515.90" x2="207.61" y2="519.90" stroke="#000" stroke-width="1"/><line x1="210.36" y1="515.90" x2="210.36" y2="519.90" stroke="#000" stroke-width="1"/><line x1="212.82" y1="514.90" x2="212.82" y2="520.90" stroke="#000" stroke-width="1"/><line x1="229.01" y1="515.90" x2="229.01" y2="519.90" stroke="#000" stroke-width="1"/><line x1="238.48" y1="515.90" x2="238.48" y2="519.90" stroke="#000" stroke-width="1"/><line x1="245.20" y1="515.90" x2="245.20" y2="519.90" stroke="#000" stroke-width="1"/><line x1="250.41" y1="515.90" x2="250.41" y2="519.90" stroke="#000" stroke-width="1"/><line x1="254.67" y1="515.90" x2="254.67" y2="519.90" stroke="#000" stroke-width="1"/><line x1="258.27" y1="515.90" x2="258.27" y2="519.90" stroke="#000" stroke-width="1"/><line x1="261.39" y1="515.90" x2="261.39" y2="519.90" stroke="#000" stroke-width="1"/><line x1="264.14" y1="515.90" x2="264.14" y2="519.90" stroke="#000" stroke-width="1"/></g>
<polyline points="304.4,516.8 304.0,516.8 304.0,515.4 304.2,515.4 304.2,513.4 304.6,513.4 304.6,511.5 304.4,511.5 304.4,510.6 304.0,510.6 304.0,509.3 304.1,509.3 304.1,507.4 304.2,507.4 304.2,506.3 303.9,506.3 303.9,504.4 305.0,504.4 305.0,503.3 306.3,503.3 306.3,501.7 307.2,501.7 307.2,500.5 307.4,500.5 307.4,498.9 307.9,498.9 307.9,498.1 308.6,498.1 308.6,496.5 308.7,496.5 308.7,494.5 309.0,494.5 309.0,493.4 309.6,493.4 309.6,492.2 309.3,492.2 309.3,490.8 310.4,490.8 310.4,489.2 309.9,489.2 309.9,487.6 310.1,487.6 310.1,486.1 311.4,486.1 311.4,485.1 311.4,485.1 311.4,483.9 311.9,483.9 311.9,482.4 311.9,482.4 311.9,481.0 312.4,481.0 312.4,479.5 312.7,479.5 312.7,477.7 313.1,477.7 313.1,476.4 313.6,476.4 313.6,474.6 313.4,474.6 313.4,473.1 314.3,473.1 314.3,472.5 314.6,472.5 314.6,470.4 315.1,470.4 315.1,469.4 315.2,469.4 315.2,467.5 315.2,467.5 315.2,466.3 315.5,466.3 315.5,464.9 316.1,464.9 316.1,464.0 315.8,464.0 315.8,462.3 316.1,462.3 316.1,460.4 317.1,460.4 317.1,459.5 317.5,459.5 317.5,458.0 316.9,458.0 316.9,456.6 317.8,456.6 317.8,455.7 318.4,455.7 318.4,453.8 318.1,453.8 318.1,452.0 318.6,452.0 318.6,450.6 318.4,450.6 318.4,448.9 318.5,448.9 318.5,448.1 318.8,448.1 318.8,446.9 319.0,446.9 319.0,445.3 319.3,445.3 319.3,443.0 320.2,443.0 320.2,441.8 320.4,441.8 320.4,440.2 320.0,440.2 320.0,439.3 320.9,439.3 320.9,438.0 321.2,438.0 321.2,435.7 321.3,435.7 321.3,434.9 321.4,434.9 321.4,433.6 321.5,433.6 321.5,432.2 322.2,432.2 322.2,429.7 321.7,429.7 321.7,428.9 322.7,428.9 322.7,426.9 322.5,426.9 322.5,426.0 322.6,426.0 322.6,424.7 323.1,424.7 323.1,422.4 323.2,422.4 323.2,421.4 323.5,421.4 323.5,420.1 323.8,420.1 323.8,421.8 324.7,421.8 324.7,423.2 325.5,423.2 325.5,424.5 325.9,424.5 325.9,426.4 327.0,426.4 327.0,428.0 327.0,428.0 327.0,429.0 326.9,429.0 326.9,431.1 327.9,431.1 327.9,432.5 327.9,432.5 327.9,433.8 328.9,433.8 328.9,435.5 328.9,435.5 328.9,436.4 329.1,436.4 329.1,438.5 329.4,438.5 329.4,439.8 329.9,439.8 329.9,441.4 330.4,441.4 330.4,442.2 329.8,442.2 329.8,443.6 330.5,443.6 330.5,445.4 331.2,445.4 331.2,447.1 330.7,447.1 330.7,448.5 331.7,448.5 331.7,450.0 331.8,450.0 331.8,450.8 332.3,450.8 332.3,452.8 332.4,452.8 332.4,454.3 332.3,454.3 332.3,454.9 334.5,454.9 334.5,457.6 334.3,457.6 334.3,459.1 335.2,459.1 335.2,460.2 335.1,460.2 335.1,462.2 335.2,462.2 335.2,463.2 335.2,463.2 335.2,465.4 335.9,465.4 335.9,466.6 335.4,466.6 335.4,468.5 336.3,468.5 336.3,469.4 336.4,469.4 336.4,471.6 336.9,471.6 336.9,472.8 336.7,472.8 336.7,474.4 336.6,474.4 336.6,475.5 336.9,475.5 336.9,477.6 337.3,477.6 337.3,479.0 337.6,479.0 337.6,480.4 337.5,480.4 337.5,481.4 338.6,481.4 338.6,483.2 338.0,483.2 338.0,484.9 338.9,484.9 338.9,485.9 339.0,485.9 339.0,487.6 339.2,487.6 339.2,488.7 338.9,488.7 338.9,491.2 340.5,491.2 340.5,492.2 340.9,492.2 340.9,493.4 341.9,493.4 341.9,495.1 342.7,495.1 342.7,496.9 343.4,496.9 343.4,498.6 343.6,498.6 343.6,499.1 344.3,499.1 344.3,500.8 344.9,500.8 344.9,502.2 345.8,502.2 345.8,504.4 346.2,504.4 346.2,506.0 347.1,506.0 347.1,506.6 347.3,506.6 347.3,508.4 347.5,508.4 347.5,510.3 348.3,510.3 348.3,511.2 349.3,511.2 349.3,512.9 350.0,512.9 350.0,513.7 350.3,513.7 350.3,514.9 351.0,514.9 351.0,516.6" fill="#c5c5c5" stroke="#111" stroke-width="1.1" stroke-linejoin="round" />
<polyline points="400.7,517.6 401.2,515.6 402.9,515.6 405.6,516.0 407.2,514.2 408.8,514.8 410.2,514.8 410.6,512.6 413.1,513.0 414.3,511.2 415.5,511.1 416.0,509.6 417.6,508.4 418.8,507.2 419.3,505.9 420.9,504.4 421.8,503.4 421.5,503.3 422.7,502.0 424.6,500.6 423.9,498.4 424.4,497.7 426.0,495.7 425.9,493.7 427.0,492.5 427.2,490.4 427.1,488.8 428.3,488.1 427.9,487.1 428.6,484.9 428.9,483.1 430.5,481.7 430.0,480.5 430.7,479.6 430.9,478.3 431.3,476.6 433.1,473.9 433.6,472.5 434.0,470.7 435.0,470.4 436.8,468.7 436.7,466.5 439.3,465.0 440.4,464.2 442.8,464.5 444.5,465.7 444.4,466.5 446.5,468.5 446.5,469.6 448.7,470.5 448.9,472.0 449.1,474.6 450.7,475.3 450.5,476.7 452.2,479.0 452.2,480.0 453.3,482.2 454.2,483.4 453.8,484.0 455.2,486.0 455.8,486.9 456.5,488.7 457.2,491.1 457.3,491.2 458.7,493.5 459.3,494.6 458.8,497.0 459.8,497.5 460.6,499.5 460.9,500.7 462.4,502.0 462.7,503.7 464.7,505.3 464.7,506.3 465.8,507.6 466.3,509.0 468.7,509.6 469.0,510.8 470.1,511.2 472.3,512.2 472.7,512.6 474.4,514.3 475.6,513.8 478.3,514.5 479.0,515.7 481.6,516.1 483.6,516.0 485.0,517.2" fill="none" stroke="#222" stroke-width="1.1" stroke-linejoin="round" stroke-dasharray="1.3,1.1" shape-rendering="crispEdges"/>
<polyline points="398.7,517.2 398.5,515.3 400.7,515.2 401.6,513.7 403.2,512.9 404.8,513.4 405.4,512.1 407.4,510.1 408.6,510.3 408.8,508.1 410.6,507.0 410.8,506.5 412.5,504.2 412.5,503.0 413.9,502.9 415.1,501.2 415.7,499.5 414.9,497.4 417.0,496.6 416.3,494.1 417.6,492.4 417.9,490.3 418.3,489.6 418.1,487.4 420.3,486.9 420.7,485.1 420.9,484.0 421.5,480.9 421.5,479.8 422.0,478.3 422.2,477.9 422.8,475.1 423.0,473.9 424.3,472.1 423.6,471.3 423.8,469.7 425.8,468.0 425.1,466.4 426.1,464.4 425.8,462.8 426.6,461.8 427.4,460.0 427.8,459.1 429.9,457.7 430.1,456.3 430.5,457.7 431.9,458.8 433.2,459.9 433.2,461.2 433.5,463.4 434.3,465.2 434.1,466.4 436.2,467.9 436.1,470.0 436.1,472.4 436.5,473.6 436.7,473.9 438.4,476.1 437.4,477.6 438.6,479.8 438.4,480.4 440.4,482.9 439.4,483.7 440.2,485.8 441.1,487.5 441.9,488.4 442.2,490.2 442.7,491.2 443.2,493.0 443.9,493.4 444.2,494.7 444.5,497.2 444.6,499.3 445.3,499.7 446.2,502.0 446.5,502.5 446.8,504.1 447.8,505.2 447.8,507.1 448.5,508.1 449.9,510.5 450.1,511.2 450.3,512.4 450.9,514.3 452.4,514.9 453.0,517.0" fill="none" stroke="#222" stroke-width="1.1" stroke-linejoin="round" stroke-dasharray="1.3,1.1" shape-rendering="crispEdges"/>
<polyline points="388.8,516.4 390.0,516.2 391.5,514.0 391.9,514.1 392.5,511.4 394.8,511.1 396.8,510.5 396.7,509.5 397.4,507.1 398.3,505.5 398.4,504.4 399.1,503.6 400.3,501.4 399.9,499.7 401.2,498.6 402.1,497.7 403.2,495.4 402.6,494.1 403.9,492.0 403.4,491.2 403.1,488.8 404.9,488.1 404.4,485.2 405.4,484.7 405.6,483.6 406.0,481.0 405.0,479.2 406.0,478.0 405.7,475.9 406.7,475.2 406.5,474.4 407.2,471.2 407.1,471.0 407.2,469.3 406.9,467.1 408.6,466.2 408.6,464.0 408.5,463.1 408.3,461.8 409.1,460.9 409.4,458.2 408.8,456.1 410.2,454.4 409.3,452.9 410.3,452.5 410.7,450.8 410.0,447.7 411.5,446.7 412.3,445.1 412.3,443.2 413.1,442.7 415.0,443.1 415.8,444.5 416.2,446.7 417.6,448.4 417.9,449.4 418.0,449.9 419.8,452.9 419.0,454.6 420.2,455.1 420.1,457.8 420.3,459.4 420.1,460.0 421.3,461.2 420.9,464.0 421.5,465.4 421.4,465.9 421.9,467.5 423.3,469.2 423.0,470.4 423.4,472.3 423.6,473.2 423.6,476.0 424.4,476.4 424.5,477.9 425.1,478.9 426.3,480.9 425.8,483.0 426.1,483.7 427.9,484.9 427.6,487.6 428.8,487.9 428.6,490.5 429.2,492.4 429.5,493.9 430.6,494.2 431.1,495.5 432.1,497.3 433.0,499.4 432.7,500.3 433.8,501.7 435.0,503.0 435.1,505.2 435.4,507.1 436.3,508.4 437.4,509.2 437.8,510.3 438.6,512.8 440.1,513.7 440.9,514.7 442.6,515.8 444.0,517.0" fill="none" stroke="#222" stroke-width="1.1" stroke-linejoin="round" stroke-dasharray="1.3,1.1" shape-rendering="crispEdges"/>
<line x1="411.00" y1="441.40" x2="417.40" y2="441.40" stroke="#111" stroke-width="1.1" shape-rendering="crispEdges"/>
<line x1="411.00" y1="443.50" x2="417.10" y2="443.50" stroke="#111" stroke-width="1.1" shape-rendering="crispEdges"/>
<line x1="411.00" y1="445.60" x2="416.80" y2="445.60" stroke="#111" stroke-width="1.1" shape-rendering="crispEdges"/>
<line x1="411.00" y1="447.70" x2="416.50" y2="447.70" stroke="#111" stroke-width="1.1" shape-rendering="crispEdges"/>
<line x1="411.00" y1="449.80" x2="416.20" y2="449.80" stroke="#111" stroke-width="1.1" shape-rendering="crispEdges"/>
<line x1="411.00" y1="451.90" x2="415.90" y2="451.90" stroke="#111" stroke-width="1.1" shape-rendering="crispEdges"/>
<polyline points="391.7,516.1 392.3,514.8 392.7,514.0 393.6,512.0 395.2,511.1 395.8,509.7 395.3,507.2 395.7,506.3 397.3,504.2 397.4,503.1 398.3,500.9 399.1,499.5 399.2,497.6 398.9,497.2 400.4,495.3 399.7,492.8 400.3,491.5 400.9,490.3 400.9,488.7 402.2,487.0 402.9,486.1 403.1,484.1 403.1,483.3 403.4,480.7 404.5,480.4 403.9,477.8 405.1,477.2 404.1,475.1 404.5,474.5 404.9,473.2 406.0,470.4 406.2,469.4 406.6,468.6 406.1,465.9 407.4,465.0 407.7,463.9 407.9,465.7 408.2,466.7 407.8,468.7 408.9,470.0 410.0,470.9 410.0,472.3 410.2,475.0 409.8,476.1 411.3,477.7 410.9,478.6 410.4,480.3 411.3,481.5 411.4,482.9 412.3,485.3 411.9,486.1 412.6,487.9 413.6,489.3 412.9,491.6 412.9,492.6 413.5,494.5 414.2,495.9 413.9,497.3 414.9,498.4 415.4,500.5 415.0,501.1 415.9,502.4 416.0,503.9 416.8,506.0 417.8,506.5 418.1,508.5 418.8,509.5 419.3,510.6 421.8,513.2 421.3,514.5 423.8,515.6 424.0,516.9" fill="none" stroke="#333" stroke-width="1.0" stroke-linejoin="round" stroke-dasharray="1.3,1.1" shape-rendering="crispEdges"/>
<polyline points="303.8,516.4 306.0,516.4 306.0,516.1 307.9,516.1 307.9,515.9 310.1,515.9 310.1,516.6 311.7,516.6 311.7,516.9 313.5,516.9 313.5,516.2 314.9,516.2 314.9,516.1 316.6,516.1 316.6,516.7 319.2,516.7 319.2,516.3 320.4,516.3 320.4,516.6 322.9,516.6 322.9,516.9 324.0,516.9 324.0,516.8 326.5,516.8 326.5,516.7 327.8,516.7 327.8,516.2 330.2,516.2 330.2,516.3 331.5,516.3 331.5,516.6 333.4,516.6 333.4,516.9 335.1,516.9 335.1,516.1 337.2,516.1 337.2,516.7 339.3,516.7 339.3,516.8 341.2,516.8 341.2,517.0 342.7,517.0 342.7,516.6 344.2,516.6 344.2,516.4 346.4,516.4 346.4,516.2 348.4,516.2 348.4,516.2 349.9,516.2 349.9,517.1 352.1,517.1 352.1,516.1 354.9,516.1 354.9,516.3 357.8,516.3 357.8,515.6 360.5,515.6 360.5,515.9 362.4,515.9 362.4,515.0 363.7,515.0 363.7,514.9 365.8,514.9 365.8,514.2 367.6,514.2 367.6,513.5 369.8,513.5 369.8,513.2 372.0,513.2 372.0,511.8 373.6,511.8 373.6,510.9 376.1,510.9 376.1,509.7 376.4,509.7 376.4,507.6 377.3,507.6 377.3,506.2 378.6,506.2 378.6,504.8 379.3,504.8 379.3,503.0 382.3,503.0 382.3,502.7 383.6,502.7 383.6,500.0 385.0,500.0 385.0,498.3 385.3,498.3 385.3,496.3 386.7,496.3 386.7,494.3 387.0,494.3 387.0,492.2 387.5,492.2 387.5,490.9 387.9,490.9 387.9,488.2 389.3,488.2 389.3,486.5 389.4,486.5 389.4,484.8 390.4,484.8 390.4,482.8 391.2,482.8 391.2,480.8 392.1,480.8 392.1,478.8 392.4,478.8 392.4,476.6 393.9,476.6 393.9,475.0 393.5,475.0 393.5,473.2 394.0,473.2 394.0,470.2 394.7,470.2 394.7,468.2 395.0,468.2 395.0,466.3 395.1,466.3 395.1,464.1 395.3,464.1 395.3,461.9 396.1,461.9 396.1,459.3 396.3,459.3 396.3,457.1 397.4,457.1 397.4,455.7 398.7,455.7 398.7,453.3 401.3,453.3 401.3,450.6 402.2,450.6 402.2,449.0 401.9,449.0 401.9,446.9 402.9,446.9 402.9,444.1 404.1,444.1 404.1,446.3 404.6,446.3 404.6,447.8 405.3,447.8 405.3,449.6 406.2,449.6 406.2,451.8 407.5,451.8 407.5,453.9 408.5,453.9 408.5,455.8 409.4,455.8 409.4,458.1 409.9,458.1 409.9,460.5 410.2,460.5 410.2,462.7 410.6,462.7 410.6,465.2 410.4,465.2 410.4,466.8 411.1,466.8 411.1,468.7 412.0,468.7 412.0,470.5 412.0,470.5 412.0,471.9 413.2,471.9 413.2,474.3 413.7,474.3 413.7,475.2 414.2,475.2 414.2,477.1 414.6,477.1 414.6,479.6 414.8,479.6 414.8,481.6 415.9,481.6 415.9,482.7 415.9,482.7 415.9,484.7 417.1,484.7 417.1,486.7 417.0,486.7 417.0,487.9 417.5,487.9 417.5,490.6 418.1,490.6 418.1,492.1 418.8,492.1 418.8,494.1 419.7,494.1 419.7,495.6 421.0,495.6 421.0,498.0 421.7,498.0 421.7,500.3 422.9,500.3 422.9,501.6 423.2,501.6 423.2,503.9 424.1,503.9 424.1,506.3 425.0,506.3 425.0,507.2 425.0,507.2 425.0,509.8 426.2,509.8 426.2,511.1 427.7,511.1 427.7,512.3 429.8,512.3 429.8,514.0 431.6,514.0 431.6,515.6 433.0,515.6 433.0,515.7 435.3,515.7 435.3,516.6 437.9,516.6 437.9,516.1 439.7,516.1 439.7,516.8 441.8,516.8 441.8,517.1 443.5,517.1 443.5,516.8 444.9,516.8 444.9,517.1 447.0,517.1 447.0,516.5 449.0,516.5 449.0,517.5 450.4,517.5 450.4,516.7 452.8,516.7 452.8,516.8 454.2,516.8 454.2,517.0 456.0,517.0 456.0,517.1 458.1,517.1 458.1,517.5 460.3,517.5 460.3,516.6 461.7,516.6 461.7,517.3 463.8,517.3 463.8,517.3 465.4,517.3 465.4,517.2 466.9,517.2 466.9,516.9 469.1,516.9 469.1,517.5 471.1,517.5 471.1,517.3 472.2,517.3 472.2,517.4 474.5,517.4 474.5,517.1 476.2,517.1 476.2,517.0 477.9,517.0 477.9,517.0 479.2,517.0 479.2,517.0 481.3,517.0 481.3,517.6 483.2,517.6 483.2,517.0 484.8,517.0 484.8,516.9 486.7,516.9 486.7,516.8 488.2,516.8 488.2,517.5 490.4,517.5 490.4,517.1 492.3,517.1 492.3,517.0 493.7,517.0 493.7,516.8 495.7,516.8 495.7,517.0 497.9,517.0 497.9,517.3 499.9,517.3 499.9,517.1 501.7,517.1 501.7,517.3 502.7,517.3 502.7,516.9 505.0,516.9 505.0,517.7 506.5,517.7 506.5,517.5 508.4,517.5 508.4,517.6 509.9,517.6 509.9,517.3 512.5,517.3 512.5,517.0 513.7,517.0 513.7,516.8 515.4,516.8 515.4,517.1 517.5,517.1 517.5,517.3" fill="none" stroke="#000" stroke-width="2.6" stroke-linejoin="round" />
<rect x="411.5" y="476.1" width="1.0" height="1.0" fill="#111" shape-rendering="crispEdges"/>
<rect x="404.8" y="472.0" width="1.0" height="1.0" fill="#111" shape-rendering="crispEdges"/>
<rect x="409.3" y="505.2" width="1.0" height="1.0" fill="#111" shape-rendering="crispEdges"/>
<rect x="410.3" y="473.3" width="1.0" height="1.0" fill="#111" shape-rendering="crispEdges"/>
<rect x="412.1" y="510.4" width="1.0" height="1.0" fill="#111" shape-rendering="crispEdges"/>
<rect x="409.2" y="466.0" width="1.0" height="1.0" fill="#111" shape-rendering="crispEdges"/>
<rect x="413.8" y="506.8" width="1.0" height="1.0" fill="#111" shape-rendering="crispEdges"/>
<rect x="403.5" y="470.8" width="1.0" height="1.0" fill="#111" shape-rendering="crispEdges"/>
<rect x="400.1" y="492.7" width="1.0" height="1.0" fill="#111" shape-rendering="crispEdges"/>
<rect x="415.3" y="497.9" width="1.0" height="1.0" fill="#111" shape-rendering="crispEdges"/>
<rect x="416.3" y="482.7" width="1.0" height="1.0" fill="#111" shape-rendering="crispEdges"/>
<rect x="403.2" y="500.2" width="1.0" height="1.0" fill="#111" shape-rendering="crispEdges"/>
<rect x="410.3" y="483.4" width="1.0" height="1.0" fill="#111" shape-rendering="crispEdges"/>
<rect x="410.9" y="480.9" width="1.0" height="1.0" fill="#111" shape-rendering="crispEdges"/>
<rect x="397.3" y="490.6" width="1.0" height="1.0" fill="#111" shape-rendering="crispEdges"/>
<rect x="397.0" y="498.5" width="1.0" height="1.0" fill="#111" shape-rendering="crispEdges"/>
<rect x="403.4" y="488.0" width="1.0" height="1.0" fill="#111" shape-rendering="crispEdges"/>
<rect x="409.2" y="474.8" width="1.0" height="1.0" fill="#111" shape-rendering="crispEdges"/>
<rect x="406.2" y="460.2" width="1.0" height="1.0" fill="#111" shape-rendering="crispEdges"/>
<rect x="416.4" y="495.8" width="1.0" height="1.0" fill="#111" shape-rendering="crispEdges"/>
<rect x="417.7" y="479.2" width="1.0" height="1.0" fill="#111" shape-rendering="crispEdges"/>
<rect x="409.5" y="498.3" width="1.0" height="1.0" fill="#111" shape-rendering="crispEdges"/>
<rect x="403.2" y="469.2" width="1.0" height="1.0" fill="#111" shape-rendering="crispEdges"/>
<rect x="399.4" y="477.4" width="1.0" height="1.0" fill="#111" shape-rendering="crispEdges"/>
<rect x="412.9" y="472.5" width="1.0" height="1.0" fill="#111" shape-rendering="crispEdges"/>
<rect x="413.9" y="488.0" width="1.0" height="1.0" fill="#111" shape-rendering="crispEdges"/>
<rect x="407.9" y="490.4" width="1.0" height="1.0" fill="#111" shape-rendering="crispEdges"/>
<rect x="408.2" y="494.2" width="1.0" height="1.0" fill="#111" shape-rendering="crispEdges"/>
<rect x="409.2" y="478.6" width="1.0" height="1.0" fill="#111" shape-rendering="crispEdges"/>
<rect x="412.3" y="479.0" width="1.0" height="1.0" fill="#111" shape-rendering="crispEdges"/>
<rect x="411.7" y="501.2" width="1.0" height="1.0" fill="#111" shape-rendering="crispEdges"/>
<rect x="413.1" y="482.2" width="1.0" height="1.0" fill="#111" shape-rendering="crispEdges"/>
<rect x="413.0" y="511.0" width="1.0" height="1.0" fill="#111" shape-rendering="crispEdges"/>
<rect x="406.0" y="474.4" width="1.0" height="1.0" fill="#111" shape-rendering="crispEdges"/>
<rect x="407.5" y="508.9" width="1.0" height="1.0" fill="#111" shape-rendering="crispEdges"/>
<rect x="398.9" y="472.9" width="1.0" height="1.0" fill="#111" shape-rendering="crispEdges"/>
<rect x="406.5" y="493.7" width="1.0" height="1.0" fill="#111" shape-rendering="crispEdges"/>
<rect x="413.0" y="484.5" width="1.0" height="1.0" fill="#111" shape-rendering="crispEdges"/>
<rect x="417.8" y="485.3" width="1.0" height="1.0" fill="#111" shape-rendering="crispEdges"/>
<rect x="412.6" y="472.1" width="1.0" height="1.0" fill="#111" shape-rendering="crispEdges"/>
<rect x="396.6" y="481.4" width="1.0" height="1.0" fill="#111" shape-rendering="crispEdges"/>
<rect x="397.3" y="493.8" width="1.0" height="1.0" fill="#111" shape-rendering="crispEdges"/>
<rect x="408.2" y="469.6" width="1.0" height="1.0" fill="#111" shape-rendering="crispEdges"/>
<rect x="416.7" y="488.8" width="1.0" height="1.0" fill="#111" shape-rendering="crispEdges"/>
<rect x="399.3" y="479.0" width="1.0" height="1.0" fill="#111" shape-rendering="crispEdges"/>
<rect x="412.2" y="508.5" width="1.0" height="1.0" fill="#111" shape-rendering="crispEdges"/>
<rect x="399.6" y="472.6" width="1.0" height="1.0" fill="#111" shape-rendering="crispEdges"/>
<rect x="413.1" y="479.4" width="1.0" height="1.0" fill="#111" shape-rendering="crispEdges"/>
<rect x="417.6" y="494.5" width="1.0" height="1.0" fill="#111" shape-rendering="crispEdges"/>
<rect x="410.0" y="480.1" width="1.0" height="1.0" fill="#111" shape-rendering="crispEdges"/>
<rect x="413.6" y="489.3" width="1.0" height="1.0" fill="#111" shape-rendering="crispEdges"/>
<rect x="403.1" y="507.5" width="1.0" height="1.0" fill="#111" shape-rendering="crispEdges"/>
<rect x="398.4" y="501.7" width="1.0" height="1.0" fill="#111" shape-rendering="crispEdges"/>
<rect x="397.4" y="499.0" width="1.0" height="1.0" fill="#111" shape-rendering="crispEdges"/>
<rect x="404.8" y="505.2" width="1.0" height="1.0" fill="#111" shape-rendering="crispEdges"/>
<rect x="397.3" y="496.1" width="1.0" height="1.0" fill="#111" shape-rendering="crispEdges"/>
<rect x="405.0" y="507.9" width="1.0" height="1.0" fill="#111" shape-rendering="crispEdges"/>
<rect x="416.8" y="498.4" width="1.0" height="1.0" fill="#111" shape-rendering="crispEdges"/>
<rect x="400.9" y="479.8" width="1.0" height="1.0" fill="#111" shape-rendering="crispEdges"/>
<rect x="401.8" y="486.8" width="1.0" height="1.0" fill="#111" shape-rendering="crispEdges"/>
<line x1="427.20" y1="448.00" x2="429.60" y2="448.00" stroke="#111" stroke-width="1.0" shape-rendering="crispEdges"/>
<line x1="427.20" y1="450.30" x2="429.60" y2="450.30" stroke="#111" stroke-width="1.0" shape-rendering="crispEdges"/>
<line x1="427.20" y1="452.60" x2="429.60" y2="452.60" stroke="#111" stroke-width="1.0" shape-rendering="crispEdges"/>
<line x1="427.20" y1="454.90" x2="429.60" y2="454.90" stroke="#111" stroke-width="1.0" shape-rendering="crispEdges"/>
<line x1="427.20" y1="457.20" x2="429.60" y2="457.20" stroke="#111" stroke-width="1.0" shape-rendering="crispEdges"/>
<line x1="427.20" y1="459.50" x2="429.60" y2="459.50" stroke="#111" stroke-width="1.0" shape-rendering="crispEdges"/>
<rect x="436.5" y="462" width="1.5" height="1.5" fill="#000"/>
<rect x="438.5" y="459.5" width="1.2" height="2" fill="#000"/>
<rect x="440.5" y="461" width="1.6" height="1.4" fill="#000"/>
<rect x="442.5" y="463.5" width="1.4" height="1.6" fill="#000"/>
<rect x="439" y="465" width="2" height="2" fill="#000"/>
<rect x="444.5" y="466" width="1.2" height="1.6" fill="#000"/>
<rect x="437" y="468" width="1.4" height="1.4" fill="#000"/>
<rect x="434.5" y="466.5" width="1.2" height="1.2" fill="#000"/>
<rect x="426.0" y="479.3" width="1.0" height="1.0" fill="#111" shape-rendering="crispEdges"/>
<rect x="439.7" y="498.3" width="1.0" height="1.0" fill="#111" shape-rendering="crispEdges"/>
<rect x="427.8" y="511.8" width="1.0" height="1.0" fill="#111" shape-rendering="crispEdges"/>
<rect x="425.6" y="494.6" width="1.0" height="1.0" fill="#111" shape-rendering="crispEdges"/>
<rect x="424.1" y="506.8" width="1.0" height="1.0" fill="#111" shape-rendering="crispEdges"/>
<rect x="442.6" y="487.0" width="1.0" height="1.0" fill="#111" shape-rendering="crispEdges"/>
<rect x="439.5" y="505.1" width="1.0" height="1.0" fill="#111" shape-rendering="crispEdges"/>
<rect x="427.3" y="483.2" width="1.0" height="1.0" fill="#111" shape-rendering="crispEdges"/>
<rect x="432.6" y="506.7" width="1.0" height="1.0" fill="#111" shape-rendering="crispEdges"/>
<rect x="424.2" y="499.8" width="1.0" height="1.0" fill="#111" shape-rendering="crispEdges"/>
<rect x="435.5" y="487.6" width="1.0" height="1.0" fill="#111" shape-rendering="crispEdges"/>
<rect x="435.1" y="506.7" width="1.0" height="1.0" fill="#111" shape-rendering="crispEdges"/>
<rect x="425.5" y="507.3" width="1.0" height="1.0" fill="#111" shape-rendering="crispEdges"/>
<rect x="429.4" y="501.9" width="1.0" height="1.0" fill="#111" shape-rendering="crispEdges"/>
<rect x="442.4" y="483.9" width="1.0" height="1.0" fill="#111" shape-rendering="crispEdges"/>
<rect x="442.5" y="511.8" width="1.0" height="1.0" fill="#111" shape-rendering="crispEdges"/>
<rect x="427.7" y="469.5" width="1.0" height="1.0" fill="#111" shape-rendering="crispEdges"/>
<rect x="422.9" y="511.1" width="1.0" height="1.0" fill="#111" shape-rendering="crispEdges"/>
<rect x="420.2" y="509.1" width="1.0" height="1.0" fill="#111" shape-rendering="crispEdges"/>
<rect x="423.9" y="502.0" width="1.0" height="1.0" fill="#111" shape-rendering="crispEdges"/>
<rect x="422.5" y="482.2" width="1.0" height="1.0" fill="#111" shape-rendering="crispEdges"/>
<rect x="437.8" y="474.4" width="1.0" height="1.0" fill="#111" shape-rendering="crispEdges"/>
<rect x="428.8" y="508.3" width="1.0" height="1.0" fill="#111" shape-rendering="crispEdges"/>
<rect x="438.6" y="507.3" width="1.0" height="1.0" fill="#111" shape-rendering="crispEdges"/>
<rect x="445.5" y="483.2" width="1.0" height="1.0" fill="#111" shape-rendering="crispEdges"/>
<rect x="426.1" y="503.4" width="1.0" height="1.0" fill="#111" shape-rendering="crispEdges"/>
<rect x="437.9" y="472.4" width="1.0" height="1.0" fill="#111" shape-rendering="crispEdges"/>
<rect x="433.1" y="474.9" width="1.0" height="1.0" fill="#111" shape-rendering="crispEdges"/>
<rect x="431.2" y="468.3" width="1.0" height="1.0" fill="#111" shape-rendering="crispEdges"/>
<rect x="420.5" y="511.7" width="1.0" height="1.0" fill="#111" shape-rendering="crispEdges"/>
<rect x="428.2" y="506.6" width="1.0" height="1.0" fill="#111" shape-rendering="crispEdges"/>
<rect x="423.1" y="493.2" width="1.0" height="1.0" fill="#111" shape-rendering="crispEdges"/>
<rect x="423.5" y="490.7" width="1.0" height="1.0" fill="#111" shape-rendering="crispEdges"/>
<rect x="424.7" y="499.7" width="1.0" height="1.0" fill="#111" shape-rendering="crispEdges"/>
<rect x="423.8" y="502.1" width="1.0" height="1.0" fill="#111" shape-rendering="crispEdges"/>
<g transform="rotate(0.241 304.10 411.60)"><rect x="304.1" y="411.6" width="213.70" height="107.20" fill="none" stroke="#222" stroke-width="1.7"/><line x1="298.80" y1="412.40" x2="304.1" y2="412.40" stroke="#222" stroke-width="1.1"/><line x1="300.60" y1="414.63" x2="304.1" y2="414.63" stroke="#222" stroke-width="0.9"/><line x1="300.60" y1="416.87" x2="304.1" y2="416.87" stroke="#222" stroke-width="0.9"/><line x1="300.60" y1="419.10" x2="304.1" y2="419.10" stroke="#222" stroke-width="0.9"/><line x1="300.60" y1="421.33" x2="304.1" y2="421.33" stroke="#222" stroke-width="0.9"/><line x1="300.60" y1="423.57" x2="304.1" y2="423.57" stroke="#222" stroke-width="0.9"/><line x1="298.80" y1="425.80" x2="304.1" y2="425.80" stroke="#222" stroke-width="1.1"/><line x1="300.60" y1="428.03" x2="304.1" y2="428.03" stroke="#222" stroke-width="0.9"/><line x1="300.60" y1="430.27" x2="304.1" y2="430.27" stroke="#222" stroke-width="0.9"/><line x1="300.60" y1="432.50" x2="304.1" y2="432.50" stroke="#222" stroke-width="0.9"/><line x1="300.60" y1="434.73" x2="304.1" y2="434.73" stroke="#222" stroke-width="0.9"/><line x1="300.60" y1="436.97" x2="304.1" y2="436.97" stroke="#222" stroke-width="0.9"/><line x1="298.80" y1="439.20" x2="304.1" y2="439.20" stroke="#222" stroke-width="1.1"/><line x1="300.60" y1="441.43" x2="304.1" y2="441.43" stroke="#222" stroke-width="0.9"/><line x1="300.60" y1="443.67" x2="304.1" y2="443.67" stroke="#222" stroke-width="0.9"/><line x1="300.60" y1="445.90" x2="304.1" y2="445.90" stroke="#222" stroke-width="0.9"/><line x1="300.60" y1="448.13" x2="304.1" y2="448.13" stroke="#222" stroke-width="0.9"/><line x1="300.60" y1="450.37" x2="304.1" y2="450.37" stroke="#222" stroke-width="0.9"/><line x1="298.80" y1="452.60" x2="304.1" y2="452.60" stroke="#222" stroke-width="1.1"/><line x1="300.60" y1="454.83" x2="304.1" y2="454.83" stroke="#222" stroke-width="0.9"/><line x1="300.60" y1="457.07" x2="304.1" y2="457.07" stroke="#222" stroke-width="0.9"/><line x1="300.60" y1="459.30" x2="304.1" y2="459.30" stroke="#222" stroke-width="0.9"/><line x1="300.60" y1="461.53" x2="304.1" y2="461.53" stroke="#222" stroke-width="0.9"/><line x1="300.60" y1="463.77" x2="304.1" y2="463.77" stroke="#222" stroke-width="0.9"/><line x1="298.80" y1="466.00" x2="304.1" y2="466.00" stroke="#222" stroke-width="1.1"/><line x1="300.60" y1="468.23" x2="304.1" y2="468.23" stroke="#222" stroke-width="0.9"/><line x1="300.60" y1="470.47" x2="304.1" y2="470.47" stroke="#222" stroke-width="0.9"/><line x1="300.60" y1="472.70" x2="304.1" y2="472.70" stroke="#222" stroke-width="0.9"/><line x1="300.60" y1="474.93" x2="304.1" y2="474.93" stroke="#222" stroke-width="0.9"/><line x1="300.60" y1="477.17" x2="304.1" y2="477.17" stroke="#222" stroke-width="0.9"/><line x1="298.80" y1="479.40" x2="304.1" y2="479.40" stroke="#222" stroke-width="1.1"/><line x1="300.60" y1="481.63" x2="304.1" y2="481.63" stroke="#222" stroke-width="0.9"/><line x1="300.60" y1="483.87" x2="304.1" y2="483.87" stroke="#222" stroke-width="0.9"/><line x1="300.60" y1="486.10" x2="304.1" y2="486.10" stroke="#222" stroke-width="0.9"/><line x1="300.60" y1="488.33" x2="304.1" y2="488.33" stroke="#222" stroke-width="0.9"/><line x1="300.60" y1="490.57" x2="304.1" y2="490.57" stroke="#222" stroke-width="0.9"/><line x1="298.80" y1="492.80" x2="304.1" y2="492.80" stroke="#222" stroke-width="1.1"/><line x1="300.60" y1="495.03" x2="304.1" y2="495.03" stroke="#222" stroke-width="0.9"/><line x1="300.60" y1="497.27" x2="304.1" y2="497.27" stroke="#222" stroke-width="0.9"/><line x1="300.60" y1="499.50" x2="304.1" y2="499.50" stroke="#222" stroke-width="0.9"/><line x1="300.60" y1="501.73" x2="304.1" y2="501.73" stroke="#222" stroke-width="0.9"/><line x1="300.60" y1="503.97" x2="304.1" y2="503.97" stroke="#222" stroke-width="0.9"/><line x1="298.80" y1="506.20" x2="304.1" y2="506.20" stroke="#222" stroke-width="1.1"/><line x1="300.60" y1="508.43" x2="304.1" y2="508.43" stroke="#222" stroke-width="0.9"/><line x1="300.60" y1="510.67" x2="304.1" y2="510.67" stroke="#222" stroke-width="0.9"/><line x1="300.60" y1="512.90" x2="304.1" y2="512.90" stroke="#222" stroke-width="0.9"/><line x1="300.60" y1="515.13" x2="304.1" y2="515.13" stroke="#222" stroke-width="0.9"/><line x1="300.60" y1="517.37" x2="304.1" y2="517.37" stroke="#222" stroke-width="0.9"/><line x1="320.18" y1="517.30" x2="320.18" y2="521.30" stroke="#222" stroke-width="1"/><line x1="329.59" y1="517.30" x2="329.59" y2="521.30" stroke="#222" stroke-width="1"/><line x1="336.27" y1="517.30" x2="336.27" y2="521.30" stroke="#222" stroke-width="1"/><line x1="341.44" y1="517.30" x2="341.44" y2="521.30" stroke="#222" stroke-width="1"/><line x1="345.67" y1="517.30" x2="345.67" y2="521.30" stroke="#222" stroke-width="1"/><line x1="349.25" y1="517.30" x2="349.25" y2="521.30" stroke="#222" stroke-width="1"/><line x1="352.35" y1="517.30" x2="352.35" y2="521.30" stroke="#222" stroke-width="1"/><line x1="355.08" y1="517.30" x2="355.08" y2="521.30" stroke="#222" stroke-width="1"/><line x1="357.53" y1="516.30" x2="357.53" y2="522.30" stroke="#222" stroke-width="1"/><line x1="373.61" y1="517.30" x2="373.61" y2="521.30" stroke="#222" stroke-width="1"/><line x1="383.02" y1="517.30" x2="383.02" y2="521.30" stroke="#222" stroke-width="1"/><line x1="389.69" y1="517.30" x2="389.69" y2="521.30" stroke="#222" stroke-width="1"/><line x1="394.87" y1="517.30" x2="394.87" y2="521.30" stroke="#222" stroke-width="1"/><line x1="399.10" y1="517.30" x2="399.10" y2="521.30" stroke="#222" stroke-width="1"/><line x1="402.67" y1="517.30" x2="402.67" y2="521.30" stroke="#222" stroke-width="1"/><line x1="405.77" y1="517.30" x2="405.77" y2="521.30" stroke="#222" stroke-width="1"/><line x1="408.51" y1="517.30" x2="408.51" y2="521.30" stroke="#222" stroke-width="1"/><line x1="410.95" y1="516.30" x2="410.95" y2="522.30" stroke="#222" stroke-width="1"/><line x1="427.03" y1="517.30" x2="427.03" y2="521.30" stroke="#222" stroke-width="1"/><line x1="436.44" y1="517.30" x2="436.44" y2="521.30" stroke="#222" stroke-width="1"/><line x1="443.12" y1="517.30" x2="443.12" y2="521.30" stroke="#222" stroke-width="1"/><line x1="448.29" y1="517.30" x2="448.29" y2="521.30" stroke="#222" stroke-width="1"/><line x1="452.52" y1="517.30" x2="452.52" y2="521.30" stroke="#222" stroke-width="1"/><line x1="456.10" y1="517.30" x2="456.10" y2="521.30" stroke="#222" stroke-width="1"/><line x1="459.20" y1="517.30" x2="459.20" y2="521.30" stroke="#222" stroke-width="1"/><line x1="461.93" y1="517.30" x2="461.93" y2="521.30" stroke="#222" stroke-width="1"/><line x1="464.38" y1="516.30" x2="464.38" y2="522.30" stroke="#222" stroke-width="1"/><line x1="480.46" y1="517.30" x2="480.46" y2="521.30" stroke="#222" stroke-width="1"/><line x1="489.87" y1="517.30" x2="489.87" y2="521.30" stroke="#222" stroke-width="1"/><line x1="496.54" y1="517.30" x2="496.54" y2="521.30" stroke="#222" stroke-width="1"/><line x1="501.72" y1="517.30" x2="501.72" y2="521.30" stroke="#222" stroke-width="1"/><line x1="505.95" y1="517.30" x2="505.95" y2="521.30" stroke="#222" stroke-width="1"/><line x1="509.52" y1="517.30" x2="509.52" y2="521.30" stroke="#222" stroke-width="1"/><line x1="512.62" y1="517.30" x2="512.62" y2="521.30" stroke="#222" stroke-width="1"/><line x1="515.36" y1="517.30" x2="515.36" y2="521.30" stroke="#222" stroke-width="1"/></g>
<text font-size="12" text-anchor="start" font-weight="normal" transform="translate(69.1 430.4) rotate(0.241) scale(1 1.05)" >Cont</text>
<text font-size="12" text-anchor="start" font-weight="normal" transform="translate(133.1 429.4) rotate(0.241) scale(1 1.05)" >CD38</text>
<text font-size="12" text-anchor="start" font-weight="normal" transform="translate(130.5 455) rotate(0.241) scale(1 1.05)" >CD37</text>
<text font-size="12" text-anchor="start" font-weight="normal" transform="translate(121.5 482.3) rotate(0.241) scale(1 1.05)" >CD20</text>
<text font-size="12" text-anchor="start" font-weight="normal" transform="translate(218.2 455.7) rotate(0.241) scale(1 1.05)" >Class II</text>
<text font-size="12" text-anchor="start" font-weight="normal" transform="translate(332.1 428.9) rotate(0.241) scale(1 1.05)" >Cont</text>
<text font-size="12" text-anchor="start" font-weight="normal" transform="translate(413.2 424.6) rotate(0.241) scale(1 1.05)" >CD38</text>
<text font-size="12" text-anchor="start" font-weight="normal" transform="translate(430.8 439) rotate(0.241) scale(1 1.05)" >CD20</text>
<text font-size="12" text-anchor="start" font-weight="normal" transform="translate(361.9 446.8) rotate(0.241) scale(1 1.05)" >CD37</text>
<text font-size="12" text-anchor="start" font-weight="normal" transform="translate(444 454) rotate(0.241) scale(1 1.05)" >Class II</text>
<text font-size="13.3" text-anchor="start" font-weight="normal" transform="translate(136.6 546.7) rotate(0.241) scale(1 1.05)" >Daudi</text>
<text font-size="13.1" text-anchor="start" font-weight="normal" transform="translate(384.6 547.5) rotate(0.241) scale(1 1.05)" >EHRB</text>
<line x1="168.50" y1="425.70" x2="179.60" y2="425.70" stroke="#000" stroke-width="1.2" />
<polygon points="186.1,425.7 179.6,429.4 179.6,422.0" fill="#000"/>
<line x1="164.80" y1="451.90" x2="176.50" y2="451.90" stroke="#000" stroke-width="1.2" />
<polygon points="184.0,451.9 176.5,455.7 176.5,448.1" fill="#000"/>
<line x1="155.20" y1="479.10" x2="166.20" y2="479.10" stroke="#000" stroke-width="1.2" />
<polygon points="174.2,479.1 166.2,483.1 166.2,475.1" fill="#000"/>
<line x1="234.60" y1="458.80" x2="228.35" y2="471.29" stroke="#000" stroke-width="1.2" />
<polygon points="225.0,478.0 225.0,469.6 231.8,473.0" fill="#000"/>
<line x1="427.50" y1="427.20" x2="421.29" y2="439.30" stroke="#000" stroke-width="1.2" />
<polygon points="418.0,445.7 417.9,437.6 424.7,441.0" fill="#000"/>
<line x1="438.80" y1="441.30" x2="432.65" y2="453.93" stroke="#000" stroke-width="1.2" />
<polygon points="429.5,460.4 429.2,452.3 436.1,455.6" fill="#000"/>
<line x1="381.25" y1="451.25" x2="388.20" y2="460.97" stroke="#000" stroke-width="1.2" />
<polygon points="392.8,467.4 385.1,463.2 391.3,458.8" fill="#000"/>
<line x1="459.30" y1="457.50" x2="452.27" y2="470.50" stroke="#000" stroke-width="1.2" />
<polygon points="448.7,477.1 448.9,468.7 455.6,472.3" fill="#000"/>
</svg></body></html>
